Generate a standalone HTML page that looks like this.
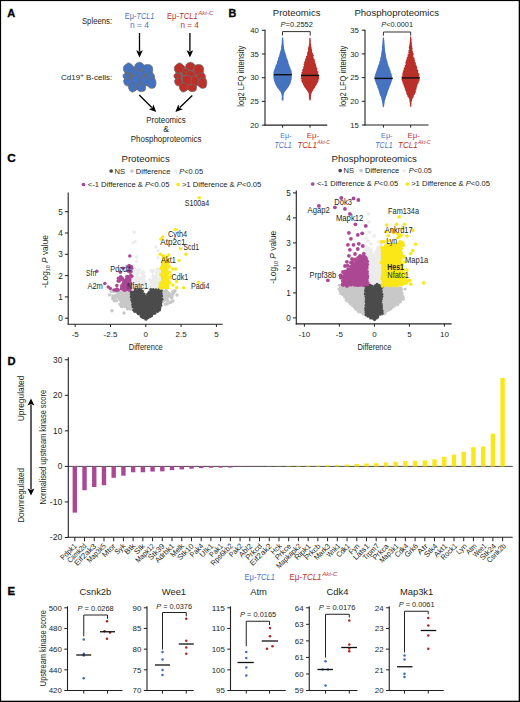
<!DOCTYPE html>
<html><head><meta charset="utf-8"><style>
html,body{margin:0;padding:0;background:#fff;overflow:hidden;width:520px;height:702px;}
svg{display:block;font-family:"Liberation Sans", sans-serif;}
</style></head><body>
<svg width="520" height="702" viewBox="0 0 520 702">
<rect x="0" y="0" width="520" height="702" fill="#fff"/>
<rect x="0" y="0" width="520" height="1.1" fill="#000"/><rect x="0" y="0" width="1.1" height="702" fill="#000"/><rect x="518.7" y="0" width="1.3" height="702" fill="#000"/><rect x="0" y="700.7" width="520" height="1.3" fill="#000"/>
<text x="7.20" y="16.60" font-size="11" fill="#000" font-weight="bold" stroke="#000" stroke-width="0.3">A</text>
<text x="112.20" y="23.50" font-size="8.5" fill="#231f20" text-anchor="end" textLength="30.30" lengthAdjust="spacingAndGlyphs" >Spleens:</text>
<text x="124.70" y="18.60" font-size="8.8" fill="#4a78c2" textLength="29.80" lengthAdjust="spacingAndGlyphs" >Eμ-<tspan font-style="italic">TCL1</tspan></text>
<text x="139.40" y="27.80" font-size="8.6" fill="#4a78c2" text-anchor="middle" textLength="18.90" lengthAdjust="spacingAndGlyphs" >n = 4</text>
<text x="167.00" y="18.60" font-size="8.8" fill="#c0322b" textLength="30.80" lengthAdjust="spacingAndGlyphs" >Eμ-<tspan font-style="italic">TCL1</tspan></text>
<text x="198.30" y="15.40" font-size="6" fill="#c0322b" textLength="14.90" lengthAdjust="spacingAndGlyphs" font-style="italic" >Akt-C</text>
<text x="189.70" y="27.80" font-size="8.6" fill="#c0322b" text-anchor="middle" textLength="18.30" lengthAdjust="spacingAndGlyphs" >n = 4</text>
<line x1="139.50" y1="33.00" x2="139.50" y2="51.30" stroke="#000" stroke-width="1.3" />
<path d="M139.50,57.50 L136.20,50.30 L139.50,51.80 L142.80,50.30 Z" fill="#000" stroke="none" stroke-width="1" />
<line x1="189.90" y1="33.00" x2="189.90" y2="51.30" stroke="#000" stroke-width="1.3" />
<path d="M189.90,57.50 L186.60,50.30 L189.90,51.80 L193.20,50.30 Z" fill="#000" stroke="none" stroke-width="1" />
<text x="112.20" y="79.80" font-size="8" fill="#231f20" text-anchor="end" textLength="51.10" lengthAdjust="spacingAndGlyphs" >Cd19<tspan font-size="6" dy="-2.6">+</tspan><tspan dy="2.6"> B-cells:</tspan></text>
<path d="M125.58,66.54 C126.22,65.66 127.26,64.05 128.46,64.13 C129.66,64.21 131.03,67.10 132.79,67.02 C134.55,66.94 137.04,63.73 139.04,63.65 C141.04,63.57 143.21,66.22 144.81,66.54 C146.41,66.86 147.61,65.50 148.65,65.58 C149.70,65.66 150.50,65.98 151.06,67.02 C151.62,68.06 151.54,70.22 152.02,71.83 C152.50,73.43 153.54,74.63 153.94,76.63 C154.34,78.64 154.58,82.16 154.42,83.85 C154.26,85.53 154.26,86.41 152.98,86.73 C151.70,87.05 148.25,85.21 146.73,85.77 C145.21,86.33 145.13,89.38 143.85,90.10 C142.56,90.82 140.80,90.02 139.04,90.10 C137.28,90.18 134.79,90.74 133.27,90.58 C131.75,90.42 130.71,90.02 129.90,89.13 C129.10,88.25 129.26,86.41 128.46,85.29 C127.66,84.17 125.74,84.25 125.10,82.40 C124.46,80.56 124.70,76.39 124.62,74.23 C124.54,72.07 124.46,70.71 124.62,69.42 C124.78,68.14 124.94,67.42 125.58,66.54Z" fill="#6c6c6c" stroke="none" stroke-width="1" />
<path d="M124.13,66.06 C124.97,65.13 127.02,62.96 128.46,62.88 C129.90,62.80 131.91,64.65 132.79,65.58 C133.67,66.51 133.91,67.42 133.75,68.46 C133.59,69.50 132.87,71.03 131.83,71.83 C130.79,72.63 128.78,73.35 127.50,73.27 C126.22,73.19 124.81,72.15 124.13,71.35 C123.46,70.54 123.46,69.34 123.46,68.46 C123.46,67.58 123.30,66.99 124.13,66.06Z" fill="#4471c0" stroke="#6c6c6c" stroke-width="0.75" stroke-linejoin="round"/>
<path d="M135.19,64.62 C135.75,63.41 138.16,62.29 139.52,62.21 C140.88,62.13 142.64,63.25 143.37,64.13 C144.09,65.02 144.25,66.46 143.85,67.50 C143.45,68.54 142.24,70.06 140.96,70.38 C139.68,70.71 137.12,70.38 136.15,69.42 C135.19,68.46 134.63,65.82 135.19,64.62Z" fill="#4471c0" stroke="#6c6c6c" stroke-width="0.75" stroke-linejoin="round"/>
<path d="M143.37,66.06 C144.25,64.78 147.21,64.54 148.65,64.62 C150.10,64.70 151.35,65.42 152.02,66.54 C152.69,67.66 152.93,69.98 152.69,71.35 C152.45,72.71 151.73,74.07 150.58,74.71 C149.42,75.35 146.97,75.59 145.77,75.19 C144.57,74.79 143.77,73.83 143.37,72.31 C142.96,70.79 142.48,67.34 143.37,66.06Z" fill="#4471c0" stroke="#6c6c6c" stroke-width="0.75" stroke-linejoin="round"/>
<path d="M123.65,74.23 C124.38,73.67 126.38,73.03 127.50,73.27 C128.62,73.51 130.06,74.79 130.38,75.67 C130.71,76.55 130.30,78.00 129.42,78.56 C128.54,79.12 126.14,79.36 125.10,79.04 C124.05,78.72 123.41,77.44 123.17,76.63 C122.93,75.83 122.93,74.79 123.65,74.23Z" fill="#4471c0" stroke="#6c6c6c" stroke-width="0.75" stroke-linejoin="round"/>
<path d="M146.73,74.23 C147.61,73.35 150.74,72.55 152.02,72.79 C153.30,73.03 154.10,74.63 154.42,75.67 C154.74,76.71 154.74,78.32 153.94,79.04 C153.14,79.76 150.82,80.16 149.62,80.00 C148.41,79.84 147.21,79.04 146.73,78.08 C146.25,77.12 145.85,75.11 146.73,74.23Z" fill="#4471c0" stroke="#6c6c6c" stroke-width="0.75" stroke-linejoin="round"/>
<path d="M131.83,69.42 C132.55,68.46 134.31,68.22 135.67,68.46 C137.04,68.70 139.36,69.90 140.00,70.87 C140.64,71.83 140.32,73.43 139.52,74.23 C138.72,75.03 136.55,75.67 135.19,75.67 C133.83,75.67 131.91,75.27 131.35,74.23 C130.79,73.19 131.11,70.38 131.83,69.42Z" fill="#4471c0" stroke="#6c6c6c" stroke-width="0.75" stroke-linejoin="round"/>
<path d="M135.67,71.35 C136.55,70.54 139.52,70.38 140.96,70.87 C142.40,71.35 143.93,73.11 144.33,74.23 C144.73,75.35 144.33,76.96 143.37,77.60 C142.40,78.24 139.84,78.40 138.56,78.08 C137.28,77.76 136.15,76.79 135.67,75.67 C135.19,74.55 134.79,72.15 135.67,71.35Z" fill="#4471c0" stroke="#6c6c6c" stroke-width="0.75" stroke-linejoin="round"/>
<path d="M124.13,79.52 C124.94,78.64 127.74,77.76 128.94,78.08 C130.14,78.40 131.11,80.32 131.35,81.44 C131.59,82.56 131.19,84.09 130.38,84.81 C129.58,85.53 127.58,86.01 126.54,85.77 C125.50,85.53 124.54,84.41 124.13,83.37 C123.73,82.32 123.33,80.40 124.13,79.52Z" fill="#4471c0" stroke="#6c6c6c" stroke-width="0.75" stroke-linejoin="round"/>
<path d="M147.69,79.52 C148.73,78.32 152.10,77.76 153.46,78.08 C154.82,78.40 155.62,79.92 155.87,81.44 C156.11,82.96 155.79,86.09 154.90,87.21 C154.02,88.33 151.86,88.49 150.58,88.17 C149.29,87.85 147.69,86.73 147.21,85.29 C146.73,83.85 146.65,80.72 147.69,79.52Z" fill="#4471c0" stroke="#6c6c6c" stroke-width="0.75" stroke-linejoin="round"/>
<path d="M131.83,76.63 C132.79,75.35 136.55,75.35 138.08,75.67 C139.60,75.99 140.56,77.20 140.96,78.56 C141.36,79.92 141.28,82.72 140.48,83.85 C139.68,84.97 137.52,85.37 136.15,85.29 C134.79,85.21 133.03,84.81 132.31,83.37 C131.59,81.92 130.87,77.92 131.83,76.63Z" fill="#4471c0" stroke="#6c6c6c" stroke-width="0.75" stroke-linejoin="round"/>
<path d="M140.96,76.63 C141.84,75.43 144.65,75.99 145.77,76.63 C146.89,77.28 147.53,79.12 147.69,80.48 C147.85,81.84 147.53,83.93 146.73,84.81 C145.93,85.69 143.93,85.93 142.88,85.77 C141.84,85.61 140.80,85.37 140.48,83.85 C140.16,82.32 140.08,77.84 140.96,76.63Z" fill="#4471c0" stroke="#6c6c6c" stroke-width="0.75" stroke-linejoin="round"/>
<path d="M128.46,84.81 C129.02,83.61 131.51,82.88 132.79,82.88 C134.07,82.88 135.51,83.77 136.15,84.81 C136.79,85.85 137.20,87.93 136.63,89.13 C136.07,90.34 133.99,91.86 132.79,92.02 C131.59,92.18 130.14,91.30 129.42,90.10 C128.70,88.89 127.90,86.01 128.46,84.81Z" fill="#4471c0" stroke="#6c6c6c" stroke-width="0.75" stroke-linejoin="round"/>
<path d="M136.63,85.77 C137.36,84.97 140.00,84.25 141.44,84.33 C142.88,84.41 144.73,85.21 145.29,86.25 C145.85,87.29 145.69,89.70 144.81,90.58 C143.93,91.46 141.28,91.78 140.00,91.54 C138.72,91.30 137.68,90.10 137.12,89.13 C136.55,88.17 135.91,86.57 136.63,85.77Z" fill="#4471c0" stroke="#6c6c6c" stroke-width="0.75" stroke-linejoin="round"/>
<path d="M176.48,66.54 C177.12,65.66 178.16,64.05 179.36,64.13 C180.56,64.21 181.93,67.10 183.69,67.02 C185.45,66.94 187.94,63.73 189.94,63.65 C191.94,63.57 194.11,66.22 195.71,66.54 C197.31,66.86 198.51,65.50 199.55,65.58 C200.60,65.66 201.40,65.98 201.96,67.02 C202.52,68.06 202.44,70.22 202.92,71.83 C203.40,73.43 204.44,74.63 204.84,76.63 C205.24,78.64 205.48,82.16 205.32,83.85 C205.16,85.53 205.16,86.41 203.88,86.73 C202.60,87.05 199.15,85.21 197.63,85.77 C196.11,86.33 196.03,89.38 194.75,90.10 C193.46,90.82 191.70,90.02 189.94,90.10 C188.18,90.18 185.69,90.74 184.17,90.58 C182.65,90.42 181.61,90.02 180.80,89.13 C180.00,88.25 180.16,86.41 179.36,85.29 C178.56,84.17 176.64,84.25 176.00,82.40 C175.36,80.56 175.60,76.39 175.52,74.23 C175.44,72.07 175.36,70.71 175.52,69.42 C175.68,68.14 175.84,67.42 176.48,66.54Z" fill="#6c6c6c" stroke="none" stroke-width="1" />
<path d="M175.03,66.06 C175.87,65.13 177.92,62.96 179.36,62.88 C180.80,62.80 182.81,64.65 183.69,65.58 C184.57,66.51 184.81,67.42 184.65,68.46 C184.49,69.50 183.77,71.03 182.73,71.83 C181.69,72.63 179.68,73.35 178.40,73.27 C177.12,73.19 175.71,72.15 175.03,71.35 C174.36,70.54 174.36,69.34 174.36,68.46 C174.36,67.58 174.20,66.99 175.03,66.06Z" fill="#bd2f27" stroke="#6c6c6c" stroke-width="0.75" stroke-linejoin="round"/>
<path d="M186.09,64.62 C186.65,63.41 189.06,62.29 190.42,62.21 C191.78,62.13 193.54,63.25 194.27,64.13 C194.99,65.02 195.15,66.46 194.75,67.50 C194.35,68.54 193.14,70.06 191.86,70.38 C190.58,70.71 188.02,70.38 187.05,69.42 C186.09,68.46 185.53,65.82 186.09,64.62Z" fill="#bd2f27" stroke="#6c6c6c" stroke-width="0.75" stroke-linejoin="round"/>
<path d="M194.27,66.06 C195.15,64.78 198.11,64.54 199.55,64.62 C201.00,64.70 202.25,65.42 202.92,66.54 C203.59,67.66 203.83,69.98 203.59,71.35 C203.35,72.71 202.63,74.07 201.48,74.71 C200.32,75.35 197.87,75.59 196.67,75.19 C195.47,74.79 194.67,73.83 194.27,72.31 C193.86,70.79 193.38,67.34 194.27,66.06Z" fill="#bd2f27" stroke="#6c6c6c" stroke-width="0.75" stroke-linejoin="round"/>
<path d="M174.55,74.23 C175.28,73.67 177.28,73.03 178.40,73.27 C179.52,73.51 180.96,74.79 181.28,75.67 C181.61,76.55 181.20,78.00 180.32,78.56 C179.44,79.12 177.04,79.36 176.00,79.04 C174.95,78.72 174.31,77.44 174.07,76.63 C173.83,75.83 173.83,74.79 174.55,74.23Z" fill="#bd2f27" stroke="#6c6c6c" stroke-width="0.75" stroke-linejoin="round"/>
<path d="M197.63,74.23 C198.51,73.35 201.64,72.55 202.92,72.79 C204.20,73.03 205.00,74.63 205.32,75.67 C205.64,76.71 205.64,78.32 204.84,79.04 C204.04,79.76 201.72,80.16 200.52,80.00 C199.31,79.84 198.11,79.04 197.63,78.08 C197.15,77.12 196.75,75.11 197.63,74.23Z" fill="#bd2f27" stroke="#6c6c6c" stroke-width="0.75" stroke-linejoin="round"/>
<path d="M182.73,69.42 C183.45,68.46 185.21,68.22 186.57,68.46 C187.94,68.70 190.26,69.90 190.90,70.87 C191.54,71.83 191.22,73.43 190.42,74.23 C189.62,75.03 187.45,75.67 186.09,75.67 C184.73,75.67 182.81,75.27 182.25,74.23 C181.69,73.19 182.01,70.38 182.73,69.42Z" fill="#bd2f27" stroke="#6c6c6c" stroke-width="0.75" stroke-linejoin="round"/>
<path d="M186.57,71.35 C187.45,70.54 190.42,70.38 191.86,70.87 C193.30,71.35 194.83,73.11 195.23,74.23 C195.63,75.35 195.23,76.96 194.27,77.60 C193.30,78.24 190.74,78.40 189.46,78.08 C188.18,77.76 187.05,76.79 186.57,75.67 C186.09,74.55 185.69,72.15 186.57,71.35Z" fill="#bd2f27" stroke="#6c6c6c" stroke-width="0.75" stroke-linejoin="round"/>
<path d="M175.03,79.52 C175.84,78.64 178.64,77.76 179.84,78.08 C181.04,78.40 182.01,80.32 182.25,81.44 C182.49,82.56 182.09,84.09 181.28,84.81 C180.48,85.53 178.48,86.01 177.44,85.77 C176.40,85.53 175.44,84.41 175.03,83.37 C174.63,82.32 174.23,80.40 175.03,79.52Z" fill="#bd2f27" stroke="#6c6c6c" stroke-width="0.75" stroke-linejoin="round"/>
<path d="M198.59,79.52 C199.63,78.32 203.00,77.76 204.36,78.08 C205.72,78.40 206.53,79.92 206.77,81.44 C207.01,82.96 206.69,86.09 205.80,87.21 C204.92,88.33 202.76,88.49 201.48,88.17 C200.19,87.85 198.59,86.73 198.11,85.29 C197.63,83.85 197.55,80.72 198.59,79.52Z" fill="#bd2f27" stroke="#6c6c6c" stroke-width="0.75" stroke-linejoin="round"/>
<path d="M182.73,76.63 C183.69,75.35 187.45,75.35 188.98,75.67 C190.50,75.99 191.46,77.20 191.86,78.56 C192.26,79.92 192.18,82.72 191.38,83.85 C190.58,84.97 188.42,85.37 187.05,85.29 C185.69,85.21 183.93,84.81 183.21,83.37 C182.49,81.92 181.77,77.92 182.73,76.63Z" fill="#bd2f27" stroke="#6c6c6c" stroke-width="0.75" stroke-linejoin="round"/>
<path d="M191.86,76.63 C192.74,75.43 195.55,75.99 196.67,76.63 C197.79,77.28 198.43,79.12 198.59,80.48 C198.75,81.84 198.43,83.93 197.63,84.81 C196.83,85.69 194.83,85.93 193.78,85.77 C192.74,85.61 191.70,85.37 191.38,83.85 C191.06,82.32 190.98,77.84 191.86,76.63Z" fill="#bd2f27" stroke="#6c6c6c" stroke-width="0.75" stroke-linejoin="round"/>
<path d="M179.36,84.81 C179.92,83.61 182.41,82.88 183.69,82.88 C184.97,82.88 186.41,83.77 187.05,84.81 C187.69,85.85 188.10,87.93 187.53,89.13 C186.97,90.34 184.89,91.86 183.69,92.02 C182.49,92.18 181.04,91.30 180.32,90.10 C179.60,88.89 178.80,86.01 179.36,84.81Z" fill="#bd2f27" stroke="#6c6c6c" stroke-width="0.75" stroke-linejoin="round"/>
<path d="M187.53,85.77 C188.26,84.97 190.90,84.25 192.34,84.33 C193.78,84.41 195.63,85.21 196.19,86.25 C196.75,87.29 196.59,89.70 195.71,90.58 C194.83,91.46 192.18,91.78 190.90,91.54 C189.62,91.30 188.58,90.10 188.02,89.13 C187.45,88.17 186.81,86.57 187.53,85.77Z" fill="#bd2f27" stroke="#6c6c6c" stroke-width="0.75" stroke-linejoin="round"/>
<line x1="139.20" y1="95.00" x2="151.80" y2="107.53" stroke="#000" stroke-width="1.3" />
<path d="M156.20,111.90 L148.77,109.16 L152.16,107.88 L153.42,104.48 Z" fill="#000" stroke="none" stroke-width="1" />
<line x1="192.30" y1="95.50" x2="179.85" y2="107.58" stroke="#000" stroke-width="1.3" />
<path d="M175.40,111.90 L178.27,104.52 L179.49,107.93 L182.87,109.25 Z" fill="#000" stroke="none" stroke-width="1" />
<text x="166.00" y="122.70" font-size="8.5" fill="#231f20" text-anchor="middle" textLength="39.50" lengthAdjust="spacingAndGlyphs" >Proteomics</text>
<text x="166.20" y="131.90" font-size="8.5" fill="#231f20" text-anchor="middle" >&amp;</text>
<text x="166.10" y="142.00" font-size="8.5" fill="#231f20" text-anchor="middle" textLength="70.70" lengthAdjust="spacingAndGlyphs" >Phosphoproteomics</text>
<text x="228.40" y="16.50" font-size="10.8" fill="#000" font-weight="bold" stroke="#000" stroke-width="0.3">B</text>
<text x="296.60" y="15.90" font-size="9" fill="#231f20" text-anchor="middle" textLength="47.60" lengthAdjust="spacingAndGlyphs" >Proteomics</text>
<text x="280.60" y="26.80" font-size="7" fill="#231f20" textLength="32.30" lengthAdjust="spacingAndGlyphs" ><tspan font-style="italic">P</tspan>=0.2552</text>
<line x1="265.00" y1="29.80" x2="265.00" y2="125.60" stroke="#231f20" stroke-width="1.1" />
<line x1="264.50" y1="125.10" x2="327.30" y2="125.10" stroke="#231f20" stroke-width="1.1" />
<line x1="261.80" y1="125.10" x2="265.00" y2="125.10" stroke="#231f20" stroke-width="1" />
<text x="258.80" y="127.70" font-size="7.3" fill="#231f20" text-anchor="end" textLength="8.60" lengthAdjust="spacingAndGlyphs" >20</text>
<line x1="261.80" y1="101.40" x2="265.00" y2="101.40" stroke="#231f20" stroke-width="1" />
<text x="258.80" y="104.00" font-size="7.3" fill="#231f20" text-anchor="end" textLength="8.60" lengthAdjust="spacingAndGlyphs" >25</text>
<line x1="261.80" y1="77.70" x2="265.00" y2="77.70" stroke="#231f20" stroke-width="1" />
<text x="258.80" y="80.30" font-size="7.3" fill="#231f20" text-anchor="end" textLength="8.60" lengthAdjust="spacingAndGlyphs" >30</text>
<line x1="261.80" y1="54.00" x2="265.00" y2="54.00" stroke="#231f20" stroke-width="1" />
<text x="258.80" y="56.60" font-size="7.3" fill="#231f20" text-anchor="end" textLength="8.60" lengthAdjust="spacingAndGlyphs" >35</text>
<line x1="261.80" y1="30.30" x2="265.00" y2="30.30" stroke="#231f20" stroke-width="1" />
<text x="258.80" y="32.90" font-size="7.3" fill="#231f20" text-anchor="end" textLength="8.60" lengthAdjust="spacingAndGlyphs" >40</text>
<line x1="282.60" y1="125.10" x2="282.60" y2="127.70" stroke="#231f20" stroke-width="1" />
<line x1="310.00" y1="125.10" x2="310.00" y2="127.70" stroke="#231f20" stroke-width="1" />
<path d="M283.17,37.50 L283.22,38.10 L283.29,38.70 L283.24,39.30 L283.31,39.90 L283.46,40.50 L283.48,41.10 L283.48,41.70 L283.52,42.30 L283.54,42.90 L283.60,43.50 L283.66,44.10 L283.64,44.70 L283.84,45.30 L283.88,45.90 L283.96,46.50 L283.94,47.10 L284.03,47.70 L284.23,48.30 L284.07,48.90 L284.49,49.50 L284.54,50.10 L284.65,50.70 L284.74,51.30 L285.01,51.90 L285.22,52.50 L285.48,53.10 L285.54,53.70 L285.85,54.30 L286.08,54.90 L286.17,55.50 L286.45,56.10 L286.32,56.70 L286.87,57.30 L286.61,57.90 L287.01,58.50 L287.14,59.10 L287.68,59.70 L287.72,60.30 L287.97,60.90 L288.26,61.50 L288.23,62.10 L288.30,62.70 L288.67,63.30 L288.62,63.90 L289.08,64.50 L288.96,65.10 L289.34,65.70 L289.90,66.30 L289.86,66.90 L290.18,67.50 L290.35,68.10 L290.79,68.70 L290.72,69.30 L290.84,69.90 L291.53,70.50 L291.51,71.10 L291.67,71.70 L291.53,72.30 L291.91,72.90 L291.93,73.50 L291.98,74.10 L292.02,74.70 L291.59,75.30 L291.96,75.90 L291.67,76.50 L291.85,77.10 L291.68,77.70 L291.65,78.30 L291.58,78.90 L291.70,79.50 L291.41,80.10 L291.09,80.70 L291.22,81.30 L290.69,81.90 L290.83,82.50 L290.39,83.10 L290.39,83.70 L290.10,84.30 L289.48,84.90 L289.50,85.50 L288.79,86.10 L288.67,86.70 L288.41,87.30 L287.59,87.90 L287.51,88.50 L287.06,89.10 L286.20,89.70 L286.15,90.30 L285.44,90.90 L285.04,91.50 L284.80,92.10 L284.02,92.70 L284.11,93.30 L283.86,93.90 L283.86,94.50 L283.69,95.10 L283.55,95.70 L283.46,96.30 L283.44,96.90 L283.50,97.50 L283.53,98.10 L283.54,98.70 L283.53,99.30 L283.52,99.90 L283.23,100.50 L281.87,100.50 L281.73,99.90 L281.67,99.30 L281.70,98.70 L281.81,98.10 L281.76,97.50 L281.79,96.90 L281.73,96.30 L281.68,95.70 L281.49,95.10 L281.50,94.50 L281.20,93.90 L281.06,93.30 L280.89,92.70 L280.71,92.10 L280.17,91.50 L279.72,90.90 L279.36,90.30 L278.90,89.70 L278.42,89.10 L277.79,88.50 L277.56,87.90 L276.77,87.30 L276.73,86.70 L276.47,86.10 L275.96,85.50 L275.54,84.90 L275.52,84.30 L275.05,83.70 L274.80,83.10 L274.73,82.50 L274.36,81.90 L274.32,81.30 L274.16,80.70 L273.69,80.10 L273.95,79.50 L273.57,78.90 L273.41,78.30 L273.55,77.70 L273.52,77.10 L273.41,76.50 L273.07,75.90 L273.58,75.30 L273.16,74.70 L273.42,74.10 L273.37,73.50 L273.63,72.90 L273.32,72.30 L273.43,71.70 L274.01,71.10 L273.95,70.50 L274.32,69.90 L274.31,69.30 L274.67,68.70 L274.82,68.10 L275.05,67.50 L275.31,66.90 L275.61,66.30 L275.48,65.70 L275.75,65.10 L276.39,64.50 L276.46,63.90 L276.87,63.30 L277.04,62.70 L276.68,62.10 L276.88,61.50 L277.46,60.90 L277.83,60.30 L278.02,59.70 L277.77,59.10 L278.35,58.50 L278.16,57.90 L278.25,57.30 L279.01,56.70 L278.91,56.10 L279.33,55.50 L279.32,54.90 L279.29,54.30 L279.94,53.70 L279.65,53.10 L279.85,52.50 L280.04,51.90 L280.35,51.30 L280.60,50.70 L280.78,50.10 L280.89,49.50 L281.10,48.90 L281.21,48.30 L281.03,47.70 L281.15,47.10 L281.19,46.50 L281.28,45.90 L281.45,45.30 L281.62,44.70 L281.57,44.10 L281.72,43.50 L281.62,42.90 L281.64,42.30 L281.80,41.70 L281.78,41.10 L281.82,40.50 L281.89,39.90 L281.84,39.30 L281.98,38.70 L281.95,38.10 L281.99,37.50Z" fill="#4673bf" stroke="none" stroke-width="1" />
<path d="M310.63,38.00 L310.71,38.60 L310.73,39.20 L310.57,39.80 L310.87,40.40 L310.90,41.00 L310.80,41.60 L310.86,42.20 L310.71,42.80 L310.83,43.40 L311.05,44.00 L311.18,44.60 L311.21,45.20 L311.01,45.80 L311.20,46.40 L311.74,47.00 L311.43,47.60 L311.69,48.20 L311.56,48.80 L312.04,49.40 L312.37,50.00 L312.07,50.60 L312.01,51.20 L312.29,51.80 L312.11,52.40 L312.60,53.00 L313.30,53.60 L312.86,54.20 L313.48,54.80 L313.96,55.40 L313.85,56.00 L313.12,56.60 L313.70,57.20 L313.42,57.80 L313.79,58.40 L313.97,59.00 L315.04,59.60 L314.53,60.20 L314.94,60.80 L314.63,61.40 L315.65,62.00 L314.93,62.60 L315.19,63.20 L316.00,63.80 L315.84,64.40 L316.24,65.00 L316.12,65.60 L315.99,66.20 L316.88,66.80 L316.40,67.40 L317.55,68.00 L317.01,68.60 L317.39,69.20 L317.38,69.80 L317.06,70.40 L317.19,71.00 L318.31,71.60 L318.34,72.20 L318.37,72.80 L317.90,73.40 L318.10,74.00 L318.38,74.60 L319.33,75.20 L319.40,75.80 L318.92,76.40 L319.02,77.00 L319.03,77.60 L318.96,78.20 L319.48,78.80 L318.75,79.40 L318.08,80.00 L318.73,80.60 L318.04,81.20 L318.36,81.80 L317.94,82.40 L317.27,83.00 L316.87,83.60 L317.15,84.20 L316.27,84.80 L316.39,85.40 L315.32,86.00 L315.30,86.60 L315.16,87.20 L314.93,87.80 L314.12,88.40 L314.14,89.00 L313.22,89.60 L313.39,90.20 L312.98,90.80 L312.26,91.40 L311.72,92.00 L312.02,92.60 L311.57,93.20 L311.31,93.80 L311.30,94.40 L311.22,95.00 L311.16,95.60 L311.14,96.20 L310.85,96.80 L311.00,97.40 L310.88,98.00 L311.01,98.60 L310.85,99.20 L310.60,99.80 L310.55,100.40 L309.49,100.40 L309.38,99.80 L309.23,99.20 L309.22,98.60 L308.94,98.00 L308.92,97.40 L309.09,96.80 L308.82,96.20 L308.77,95.60 L308.90,95.00 L308.79,94.40 L308.96,93.80 L308.41,93.20 L308.30,92.60 L307.75,92.00 L307.73,91.40 L307.04,90.80 L306.83,90.20 L306.19,89.60 L305.76,89.00 L305.53,88.40 L304.89,87.80 L304.42,87.20 L304.19,86.60 L304.04,86.00 L303.69,85.40 L302.94,84.80 L302.94,84.20 L302.88,83.60 L302.32,83.00 L301.94,82.40 L301.74,81.80 L301.45,81.20 L301.17,80.60 L301.70,80.00 L301.44,79.40 L300.92,78.80 L300.30,78.20 L301.28,77.60 L301.21,77.00 L300.79,76.40 L301.22,75.80 L300.85,75.20 L301.43,74.60 L301.07,74.00 L301.71,73.40 L301.44,72.80 L301.40,72.20 L302.54,71.60 L302.26,71.00 L301.91,70.40 L302.66,69.80 L302.33,69.20 L303.19,68.60 L302.99,68.00 L303.73,67.40 L302.75,66.80 L303.92,66.20 L304.05,65.60 L304.04,65.00 L303.46,64.40 L303.63,63.80 L304.52,63.20 L303.98,62.60 L304.28,62.00 L304.60,61.40 L304.76,60.80 L305.46,60.20 L304.95,59.60 L305.36,59.00 L305.28,58.40 L306.53,57.80 L306.05,57.20 L305.95,56.60 L306.04,56.00 L307.18,55.40 L307.30,54.80 L306.94,54.20 L307.10,53.60 L307.43,53.00 L307.18,52.40 L307.41,51.80 L308.07,51.20 L308.10,50.60 L308.12,50.00 L307.75,49.40 L307.92,48.80 L308.22,48.20 L308.15,47.60 L308.32,47.00 L308.80,46.40 L308.56,45.80 L309.02,45.20 L309.10,44.60 L309.18,44.00 L308.93,43.40 L309.22,42.80 L309.13,42.20 L309.27,41.60 L309.34,41.00 L309.22,40.40 L309.30,39.80 L309.22,39.20 L309.25,38.60 L309.34,38.00Z" fill="#b92f29" stroke="none" stroke-width="1" />
<line x1="274.00" y1="74.70" x2="291.90" y2="74.70" stroke="#111" stroke-width="1.4" />
<line x1="301.00" y1="75.40" x2="319.10" y2="75.40" stroke="#111" stroke-width="1.4" />
<path d="M282.50,35.50 L282.50,31.60 L310.20,31.60 L310.20,35.50" fill="none" stroke="#333" stroke-width="1" />
<text x="244.50" y="76.20" font-size="8.3" fill="#231f20" text-anchor="middle" textLength="61.00" lengthAdjust="spacingAndGlyphs" transform="rotate(-90 244.50 76.20)" >log2 LFQ intensity</text>
<text x="286.00" y="138.10" font-size="7.8" fill="#4a78c2" text-anchor="middle" textLength="11.50" lengthAdjust="spacingAndGlyphs" >Eμ-</text>
<text x="283.10" y="147.80" font-size="8.6" fill="#4a78c2" text-anchor="middle" textLength="17.40" lengthAdjust="spacingAndGlyphs" font-style="italic" >TCL1</text>
<text x="312.90" y="138.10" font-size="7.8" fill="#c0322b" text-anchor="middle" textLength="12.30" lengthAdjust="spacingAndGlyphs" >Eμ-</text>
<text x="297.40" y="147.80" font-size="8.6" fill="#c0322b" textLength="19.50" lengthAdjust="spacingAndGlyphs" font-style="italic" >TCL1</text>
<text x="317.30" y="144.30" font-size="5.6" fill="#c0322b" textLength="12.60" lengthAdjust="spacingAndGlyphs" font-style="italic" >Akt-C</text>
<text x="396.70" y="15.90" font-size="9" fill="#231f20" text-anchor="middle" textLength="84.60" lengthAdjust="spacingAndGlyphs" >Phosphoproteomics</text>
<text x="381.30" y="27.00" font-size="7" fill="#231f20" textLength="31.70" lengthAdjust="spacingAndGlyphs" ><tspan font-style="italic">P</tspan>&lt;0.0001</text>
<line x1="365.00" y1="29.70" x2="365.00" y2="125.50" stroke="#231f20" stroke-width="1.1" />
<line x1="364.50" y1="125.00" x2="428.50" y2="125.00" stroke="#231f20" stroke-width="1.1" />
<line x1="361.80" y1="125.00" x2="365.00" y2="125.00" stroke="#231f20" stroke-width="1" />
<text x="358.80" y="127.60" font-size="7.3" fill="#231f20" text-anchor="end" textLength="8.60" lengthAdjust="spacingAndGlyphs" >15</text>
<line x1="361.80" y1="101.30" x2="365.00" y2="101.30" stroke="#231f20" stroke-width="1" />
<text x="358.80" y="103.90" font-size="7.3" fill="#231f20" text-anchor="end" textLength="8.60" lengthAdjust="spacingAndGlyphs" >20</text>
<line x1="361.80" y1="77.60" x2="365.00" y2="77.60" stroke="#231f20" stroke-width="1" />
<text x="358.80" y="80.20" font-size="7.3" fill="#231f20" text-anchor="end" textLength="8.60" lengthAdjust="spacingAndGlyphs" >25</text>
<line x1="361.80" y1="53.90" x2="365.00" y2="53.90" stroke="#231f20" stroke-width="1" />
<text x="358.80" y="56.50" font-size="7.3" fill="#231f20" text-anchor="end" textLength="8.60" lengthAdjust="spacingAndGlyphs" >30</text>
<line x1="361.80" y1="30.20" x2="365.00" y2="30.20" stroke="#231f20" stroke-width="1" />
<text x="358.80" y="32.80" font-size="7.3" fill="#231f20" text-anchor="end" textLength="8.60" lengthAdjust="spacingAndGlyphs" >35</text>
<line x1="383.40" y1="125.00" x2="383.40" y2="127.60" stroke="#231f20" stroke-width="1" />
<line x1="410.70" y1="125.00" x2="410.70" y2="127.60" stroke="#231f20" stroke-width="1" />
<path d="M383.87,37.60 L384.01,38.20 L384.11,38.80 L384.07,39.40 L384.16,40.00 L384.33,40.60 L384.36,41.20 L384.37,41.80 L384.42,42.40 L384.45,43.00 L384.54,43.60 L384.61,44.20 L384.55,44.80 L384.74,45.40 L384.75,46.00 L384.79,46.60 L384.75,47.20 L384.81,47.80 L384.98,48.40 L384.80,49.00 L385.10,49.60 L385.04,50.20 L385.09,50.80 L385.12,51.40 L385.29,52.00 L385.42,52.60 L385.58,53.20 L385.60,53.80 L385.77,54.40 L385.88,55.00 L385.89,55.60 L386.09,56.20 L385.95,56.80 L386.41,57.40 L386.11,58.00 L386.44,58.60 L386.52,59.20 L387.01,59.80 L387.00,60.40 L387.21,61.00 L387.49,61.60 L387.45,62.20 L387.52,62.80 L387.88,63.40 L387.83,64.00 L388.27,64.60 L388.12,65.20 L388.47,65.80 L389.01,66.40 L388.96,67.00 L389.29,67.60 L389.47,68.20 L389.92,68.80 L389.83,69.40 L389.94,70.00 L390.61,70.60 L390.57,71.20 L390.71,71.80 L390.67,72.40 L391.22,73.00 L391.41,73.60 L391.63,74.20 L391.83,74.80 L391.58,75.40 L392.10,76.00 L391.97,76.60 L392.30,77.20 L392.29,77.80 L392.42,78.40 L392.21,79.00 L392.33,79.60 L392.04,80.20 L391.71,80.80 L391.84,81.40 L391.26,82.00 L391.33,82.60 L390.87,83.20 L390.95,83.80 L390.73,84.40 L390.19,85.00 L390.29,85.60 L389.66,86.20 L389.62,86.80 L389.56,87.40 L388.97,88.00 L389.12,88.60 L388.89,89.20 L388.26,89.80 L388.44,90.40 L387.97,91.00 L387.80,91.60 L387.90,92.20 L387.14,92.80 L387.46,93.40 L386.99,94.00 L387.09,94.60 L386.78,95.20 L386.53,95.80 L386.11,96.40 L385.89,97.00 L385.87,97.60 L385.76,98.20 L385.57,98.80 L385.36,99.40 L385.13,100.00 L384.76,100.60 L384.73,101.20 L384.77,101.80 L384.62,102.40 L384.57,103.00 L384.40,103.60 L384.35,104.20 L384.24,104.80 L384.18,105.40 L384.03,106.00 L384.00,106.60 L383.72,107.20 L383.13,107.20 L382.81,106.60 L382.68,106.00 L382.58,105.40 L382.59,104.80 L382.39,104.20 L382.27,103.60 L382.29,103.00 L382.06,102.40 L382.07,101.80 L382.04,101.20 L381.82,100.60 L381.78,100.00 L381.45,99.40 L381.31,98.80 L381.38,98.20 L381.08,97.60 L381.00,97.00 L380.66,96.40 L380.36,95.80 L379.96,95.20 L380.13,94.60 L379.50,94.00 L379.27,93.40 L379.09,92.80 L379.36,92.20 L379.00,91.60 L378.79,91.00 L378.67,90.40 L378.44,89.80 L378.18,89.20 L377.78,88.60 L377.78,88.00 L377.22,87.40 L377.38,86.80 L377.20,86.20 L376.77,85.60 L376.42,85.00 L376.48,84.40 L376.09,83.80 L375.92,83.20 L375.83,82.60 L375.39,82.00 L375.30,81.40 L375.14,80.80 L374.67,80.20 L374.92,79.60 L374.54,79.00 L374.24,78.40 L374.54,77.80 L374.66,77.20 L374.71,76.60 L374.53,76.00 L375.20,75.40 L374.95,74.80 L375.37,74.20 L375.49,73.60 L375.92,73.00 L375.77,72.40 L375.99,71.80 L376.55,71.20 L376.47,70.60 L376.82,70.00 L376.79,69.40 L377.14,68.80 L377.30,68.20 L377.54,67.60 L377.80,67.00 L378.10,66.40 L377.95,65.80 L378.19,65.20 L378.80,64.60 L378.84,64.00 L379.26,63.40 L379.42,62.80 L379.05,62.20 L379.25,61.60 L379.83,61.00 L380.14,60.40 L380.29,59.80 L380.00,59.20 L380.51,58.60 L380.27,58.00 L380.32,57.40 L380.97,56.80 L380.84,56.20 L381.15,55.60 L381.07,55.00 L380.98,54.40 L381.42,53.80 L381.16,53.20 L381.28,52.60 L381.39,52.00 L381.60,51.40 L381.75,50.80 L381.86,50.20 L381.86,49.60 L381.97,49.00 L382.05,48.40 L381.85,47.80 L381.94,47.20 L381.95,46.60 L382.01,46.00 L382.16,45.40 L382.31,44.80 L382.23,44.20 L382.40,43.60 L382.30,43.00 L382.33,42.40 L382.52,41.80 L382.51,41.20 L382.56,40.60 L382.65,40.00 L382.61,39.40 L382.77,38.80 L382.76,38.20 L382.90,37.60Z" fill="#4673bf" stroke="none" stroke-width="1" />
<path d="M411.22,36.50 L411.32,37.10 L411.37,37.70 L411.25,38.30 L411.56,38.90 L411.62,39.50 L411.54,40.10 L411.62,40.70 L411.48,41.30 L411.63,41.90 L411.89,42.50 L411.97,43.10 L411.95,43.70 L411.70,44.30 L411.86,44.90 L412.36,45.50 L412.04,46.10 L412.27,46.70 L412.13,47.30 L412.53,47.90 L412.76,48.50 L412.45,49.10 L412.36,49.70 L412.56,50.30 L412.40,50.90 L412.79,51.50 L413.34,52.10 L412.97,52.70 L413.47,53.30 L413.88,53.90 L413.76,54.50 L413.03,55.10 L413.54,55.70 L413.28,56.30 L413.65,56.90 L413.84,57.50 L414.88,58.10 L414.35,58.70 L414.73,59.30 L414.40,59.90 L415.39,60.50 L414.64,61.10 L414.89,61.70 L415.69,62.30 L415.54,62.90 L415.97,63.50 L415.87,64.10 L415.76,64.70 L416.67,65.30 L416.22,65.90 L417.38,66.50 L416.86,67.10 L417.27,67.70 L417.28,68.30 L416.98,68.90 L417.13,69.50 L418.27,70.10 L418.32,70.70 L418.38,71.30 L417.93,71.90 L418.11,72.50 L418.42,73.10 L419.40,73.70 L419.50,74.30 L419.05,74.90 L419.17,75.50 L419.22,76.10 L419.32,76.70 L420.15,77.30 L419.60,77.90 L419.11,78.50 L419.94,79.10 L419.37,79.70 L419.67,80.30 L419.34,80.90 L418.78,81.50 L418.49,82.10 L418.88,82.70 L418.12,83.30 L418.34,83.90 L417.32,84.50 L417.36,85.10 L417.36,85.70 L417.33,86.30 L416.72,86.90 L416.94,87.50 L416.22,88.10 L416.69,88.70 L416.67,89.30 L415.97,89.90 L415.40,90.50 L416.17,91.10 L415.73,91.70 L415.63,92.30 L415.49,92.90 L415.13,93.50 L414.85,94.10 L414.65,94.70 L413.69,95.30 L413.96,95.90 L413.47,96.50 L413.69,97.10 L413.21,97.70 L412.53,98.30 L412.48,98.90 L412.11,99.50 L412.01,100.10 L411.99,100.70 L411.71,101.30 L411.53,101.90 L411.55,102.50 L411.41,103.10 L411.43,103.70 L411.45,104.30 L411.39,104.90 L411.35,105.50 L411.36,106.10 L411.24,106.70 L410.19,106.70 L410.14,106.10 L409.96,105.50 L410.07,104.90 L410.10,104.30 L410.07,103.70 L409.76,103.10 L409.80,102.50 L409.71,101.90 L409.38,101.30 L409.42,100.70 L409.43,100.10 L409.39,99.50 L409.03,98.90 L408.80,98.30 L408.44,97.70 L408.38,97.10 L407.37,96.50 L407.18,95.90 L407.55,95.30 L406.65,94.70 L406.37,94.10 L406.57,93.50 L406.15,92.90 L406.44,92.30 L405.64,91.70 L405.78,91.10 L405.20,90.50 L405.41,89.90 L404.75,89.30 L404.92,88.70 L404.59,88.10 L404.36,87.50 L404.32,86.90 L403.89,86.30 L403.62,85.70 L403.54,85.10 L403.44,84.50 L403.15,83.90 L402.50,83.30 L402.61,82.70 L402.66,82.10 L402.21,81.50 L401.94,80.90 L401.83,80.30 L401.52,79.70 L401.36,79.10 L402.07,78.50 L401.99,77.90 L401.65,77.30 L401.35,76.70 L402.49,76.10 L402.45,75.50 L402.06,74.90 L402.52,74.30 L402.18,73.70 L402.79,73.10 L402.45,72.50 L403.08,71.90 L402.83,71.30 L402.82,70.70 L403.98,70.10 L403.72,69.50 L403.39,68.90 L404.16,68.30 L403.85,67.70 L404.74,67.10 L404.56,66.50 L405.32,65.90 L404.36,65.30 L405.55,64.70 L405.70,64.10 L405.71,63.50 L405.16,62.90 L405.34,62.30 L406.21,61.70 L405.67,61.10 L405.94,60.50 L406.24,59.90 L406.37,59.30 L407.04,58.70 L406.50,58.10 L406.89,57.50 L406.82,56.90 L408.08,56.30 L407.61,55.70 L407.48,55.10 L407.53,54.50 L408.54,53.90 L408.59,53.30 L408.26,52.70 L408.37,52.10 L408.63,51.50 L408.42,50.90 L408.60,50.30 L409.10,49.70 L409.09,49.10 L409.06,48.50 L408.68,47.90 L408.79,47.30 L409.04,46.70 L408.96,46.10 L409.10,45.50 L409.54,44.90 L409.26,44.30 L409.68,43.70 L409.73,43.10 L409.77,42.50 L409.51,41.90 L409.85,41.30 L409.77,40.70 L409.94,40.10 L410.03,39.50 L409.93,38.90 L410.04,38.30 L409.98,37.70 L410.04,37.10 L410.15,36.50Z" fill="#b92f29" stroke="none" stroke-width="1" />
<line x1="374.60" y1="78.40" x2="392.80" y2="78.40" stroke="#111" stroke-width="1.4" />
<line x1="401.70" y1="77.90" x2="419.80" y2="77.90" stroke="#111" stroke-width="1.4" />
<path d="M383.40,35.70 L383.40,32.00 L410.70,32.00 L410.70,35.70" fill="none" stroke="#333" stroke-width="1" />
<text x="346.00" y="76.20" font-size="8.3" fill="#231f20" text-anchor="middle" textLength="61.00" lengthAdjust="spacingAndGlyphs" transform="rotate(-90 346.00 76.20)" >log2 LFQ intensity</text>
<text x="386.80" y="138.10" font-size="7.8" fill="#4a78c2" text-anchor="middle" textLength="11.50" lengthAdjust="spacingAndGlyphs" >Eμ-</text>
<text x="383.90" y="147.80" font-size="8.6" fill="#4a78c2" text-anchor="middle" textLength="17.40" lengthAdjust="spacingAndGlyphs" font-style="italic" >TCL1</text>
<text x="413.60" y="138.10" font-size="7.8" fill="#c0322b" text-anchor="middle" textLength="12.30" lengthAdjust="spacingAndGlyphs" >Eμ-</text>
<text x="398.10" y="147.80" font-size="8.6" fill="#c0322b" textLength="19.50" lengthAdjust="spacingAndGlyphs" font-style="italic" >TCL1</text>
<text x="418.00" y="144.30" font-size="5.6" fill="#c0322b" textLength="12.60" lengthAdjust="spacingAndGlyphs" font-style="italic" >Akt-C</text>
<text x="7.20" y="162.40" font-size="11.8" fill="#000" font-weight="bold" stroke="#000" stroke-width="0.3">C</text>
<text x="145.60" y="162.30" font-size="9" fill="#231f20" text-anchor="middle" textLength="48.30" lengthAdjust="spacingAndGlyphs" >Proteomics</text>
<circle cx="111.20" cy="171.00" r="1.85" fill="#4b4b4b"/>
<text x="114.60" y="173.90" font-size="6.6" fill="#231f20" textLength="10.60" lengthAdjust="spacingAndGlyphs" >NS</text>
<circle cx="131.90" cy="171.00" r="1.85" fill="#c8c8c8"/>
<text x="135.80" y="173.90" font-size="6.6" fill="#231f20" textLength="34.60" lengthAdjust="spacingAndGlyphs" >Difference</text>
<circle cx="175.80" cy="171.00" r="1.85" fill="#ececec"/>
<text x="179.20" y="173.90" font-size="6.6" fill="#231f20" textLength="23.90" lengthAdjust="spacingAndGlyphs" ><tspan font-style="italic">P</tspan>&lt;0.05</text>
<circle cx="83.50" cy="184.50" r="1.85" fill="#ac4793"/>
<text x="87.70" y="187.00" font-size="6.6" fill="#231f20" textLength="81.70" lengthAdjust="spacingAndGlyphs" >&lt;-1 Difference &amp; <tspan font-style="italic">P</tspan>&lt;0.05</text>
<circle cx="178.10" cy="184.50" r="1.85" fill="#fbe717"/>
<text x="181.90" y="187.00" font-size="6.6" fill="#231f20" textLength="79.40" lengthAdjust="spacingAndGlyphs" >&gt;1 Difference &amp; <tspan font-style="italic">P</tspan>&lt;0.05</text>
<line x1="68.20" y1="192.60" x2="68.20" y2="324.70" stroke="#231f20" stroke-width="1.1" />
<line x1="67.70" y1="324.20" x2="222.70" y2="324.20" stroke="#231f20" stroke-width="1.1" />
<line x1="64.90" y1="318.20" x2="68.20" y2="318.20" stroke="#231f20" stroke-width="1" />
<text x="62.70" y="321.10" font-size="8.2" fill="#231f20" text-anchor="end" >0</text>
<line x1="64.90" y1="296.90" x2="68.20" y2="296.90" stroke="#231f20" stroke-width="1" />
<text x="62.70" y="299.80" font-size="8.2" fill="#231f20" text-anchor="end" >1</text>
<line x1="64.90" y1="275.60" x2="68.20" y2="275.60" stroke="#231f20" stroke-width="1" />
<text x="62.70" y="278.50" font-size="8.2" fill="#231f20" text-anchor="end" >2</text>
<line x1="64.90" y1="254.30" x2="68.20" y2="254.30" stroke="#231f20" stroke-width="1" />
<text x="62.70" y="257.20" font-size="8.2" fill="#231f20" text-anchor="end" >3</text>
<line x1="64.90" y1="233.00" x2="68.20" y2="233.00" stroke="#231f20" stroke-width="1" />
<text x="62.70" y="235.90" font-size="8.2" fill="#231f20" text-anchor="end" >4</text>
<line x1="64.90" y1="211.70" x2="68.20" y2="211.70" stroke="#231f20" stroke-width="1" />
<text x="62.70" y="214.60" font-size="8.2" fill="#231f20" text-anchor="end" >5</text>
<line x1="75.20" y1="324.20" x2="75.20" y2="327.00" stroke="#231f20" stroke-width="1" />
<text x="75.20" y="336.80" font-size="8" fill="#231f20" text-anchor="middle" >-5</text>
<line x1="110.50" y1="324.20" x2="110.50" y2="327.00" stroke="#231f20" stroke-width="1" />
<text x="110.50" y="336.80" font-size="8" fill="#231f20" text-anchor="middle" >-2.5</text>
<line x1="145.80" y1="324.20" x2="145.80" y2="327.00" stroke="#231f20" stroke-width="1" />
<text x="145.80" y="336.80" font-size="8" fill="#231f20" text-anchor="middle" >0</text>
<line x1="181.10" y1="324.20" x2="181.10" y2="327.00" stroke="#231f20" stroke-width="1" />
<text x="181.10" y="336.80" font-size="8" fill="#231f20" text-anchor="middle" >2.5</text>
<line x1="216.40" y1="324.20" x2="216.40" y2="327.00" stroke="#231f20" stroke-width="1" />
<text x="216.40" y="336.80" font-size="8" fill="#231f20" text-anchor="middle" >5</text>
<text x="47.80" y="261.50" font-size="8.4" fill="#231f20" text-anchor="middle" textLength="53.00" lengthAdjust="spacingAndGlyphs" transform="rotate(-90 47.80 261.50)" >-Log<tspan font-size="5.2" dy="1.8">10</tspan><tspan dy="-1.8" font-style="italic"> P</tspan> value</text>
<text x="145.80" y="350.30" font-size="9.6" fill="#231f20" text-anchor="middle" textLength="34.00" lengthAdjust="spacingAndGlyphs" >Difference</text>
<g fill="#ececec"><circle cx="133.7" cy="283.9" r="1.7"/><circle cx="140.1" cy="279.0" r="1.7"/><circle cx="134.4" cy="286.2" r="1.7"/><circle cx="142.4" cy="279.8" r="1.7"/><circle cx="138.3" cy="273.4" r="1.7"/><circle cx="131.5" cy="276.5" r="1.7"/><circle cx="139.4" cy="269.6" r="1.7"/><circle cx="142.2" cy="273.3" r="1.7"/><circle cx="134.6" cy="269.0" r="1.7"/><circle cx="143.3" cy="282.2" r="1.7"/><circle cx="132.0" cy="275.6" r="1.7"/><circle cx="138.2" cy="270.7" r="1.7"/><circle cx="144.4" cy="276.5" r="1.7"/><circle cx="133.6" cy="286.8" r="1.7"/><circle cx="133.2" cy="289.3" r="1.7"/><circle cx="137.6" cy="280.7" r="1.7"/><circle cx="136.1" cy="279.1" r="1.7"/><circle cx="134.0" cy="268.9" r="1.7"/><circle cx="143.2" cy="273.4" r="1.7"/><circle cx="142.0" cy="272.8" r="1.7"/><circle cx="144.6" cy="288.6" r="1.7"/><circle cx="141.7" cy="285.5" r="1.7"/><circle cx="139.3" cy="284.8" r="1.7"/><circle cx="133.2" cy="279.0" r="1.7"/><circle cx="142.7" cy="272.6" r="1.7"/><circle cx="144.0" cy="288.4" r="1.7"/><circle cx="137.0" cy="276.4" r="1.7"/><circle cx="137.6" cy="276.9" r="1.7"/><circle cx="138.2" cy="279.3" r="1.7"/><circle cx="138.9" cy="285.2" r="1.7"/><circle cx="134.5" cy="282.0" r="1.7"/><circle cx="139.0" cy="282.3" r="1.7"/><circle cx="133.9" cy="271.9" r="1.7"/><circle cx="136.2" cy="289.3" r="1.7"/><circle cx="136.2" cy="281.7" r="1.7"/><circle cx="135.6" cy="270.4" r="1.7"/><circle cx="132.4" cy="286.7" r="1.7"/><circle cx="142.0" cy="276.6" r="1.7"/><circle cx="140.7" cy="283.5" r="1.7"/><circle cx="143.6" cy="290.0" r="1.7"/><circle cx="144.5" cy="281.6" r="1.7"/><circle cx="143.4" cy="279.3" r="1.7"/><circle cx="136.6" cy="273.7" r="1.7"/><circle cx="143.3" cy="271.7" r="1.7"/><circle cx="132.4" cy="286.5" r="1.7"/></g>
<g fill="#ececec"><circle cx="160.5" cy="271.1" r="1.7"/><circle cx="149.3" cy="290.0" r="1.7"/><circle cx="151.2" cy="270.7" r="1.7"/><circle cx="156.8" cy="275.6" r="1.7"/><circle cx="159.7" cy="273.1" r="1.7"/><circle cx="160.5" cy="275.0" r="1.7"/><circle cx="156.2" cy="288.5" r="1.7"/><circle cx="157.2" cy="288.3" r="1.7"/><circle cx="157.5" cy="269.1" r="1.7"/><circle cx="159.6" cy="281.0" r="1.7"/><circle cx="152.7" cy="272.2" r="1.7"/><circle cx="159.2" cy="280.8" r="1.7"/><circle cx="160.3" cy="285.0" r="1.7"/><circle cx="160.5" cy="280.5" r="1.7"/><circle cx="157.4" cy="281.5" r="1.7"/><circle cx="152.1" cy="289.0" r="1.7"/><circle cx="152.7" cy="285.2" r="1.7"/><circle cx="160.5" cy="282.3" r="1.7"/><circle cx="150.7" cy="286.2" r="1.7"/><circle cx="157.0" cy="272.1" r="1.7"/><circle cx="149.6" cy="279.7" r="1.7"/><circle cx="149.4" cy="288.4" r="1.7"/><circle cx="155.1" cy="279.4" r="1.7"/><circle cx="153.9" cy="282.5" r="1.7"/><circle cx="160.0" cy="274.8" r="1.7"/><circle cx="153.5" cy="280.8" r="1.7"/><circle cx="152.6" cy="281.1" r="1.7"/><circle cx="155.5" cy="277.5" r="1.7"/><circle cx="157.1" cy="279.6" r="1.7"/><circle cx="150.1" cy="289.9" r="1.7"/><circle cx="153.3" cy="277.5" r="1.7"/><circle cx="153.8" cy="288.4" r="1.7"/><circle cx="160.4" cy="279.3" r="1.7"/><circle cx="153.8" cy="270.1" r="1.7"/><circle cx="159.7" cy="271.8" r="1.7"/><circle cx="155.6" cy="275.7" r="1.7"/><circle cx="152.9" cy="275.9" r="1.7"/><circle cx="155.4" cy="285.5" r="1.7"/><circle cx="156.8" cy="272.4" r="1.7"/><circle cx="157.3" cy="269.1" r="1.7"/><circle cx="153.9" cy="286.2" r="1.7"/><circle cx="160.1" cy="278.1" r="1.7"/><circle cx="159.2" cy="279.0" r="1.7"/><circle cx="155.3" cy="280.9" r="1.7"/><circle cx="160.9" cy="284.4" r="1.7"/></g>
<path d="M132.50,291.00 L132.50,280.00 L138.00,276.00 L144.00,280.00 L144.50,291.00Z" fill="#ececec" stroke="none" stroke-width="1" />
<path d="M149.50,291.00 L150.00,280.00 L155.00,276.00 L160.00,279.00 L160.50,291.00Z" fill="#ececec" stroke="none" stroke-width="1" />
<circle cx="134.20" cy="232.30" r="1.7" fill="#ececec"/>
<circle cx="135.00" cy="241.50" r="1.7" fill="#ececec"/>
<circle cx="133.00" cy="243.00" r="1.7" fill="#ececec"/>
<circle cx="136.50" cy="257.00" r="1.7" fill="#ececec"/>
<circle cx="136.50" cy="261.50" r="1.7" fill="#ececec"/>
<circle cx="155.80" cy="247.00" r="1.7" fill="#ececec"/>
<circle cx="158.00" cy="250.80" r="1.7" fill="#ececec"/>
<circle cx="158.00" cy="257.70" r="1.7" fill="#ececec"/>
<g fill="#c8c8c8"><circle cx="130.3" cy="308.9" r="1.7"/><circle cx="129.5" cy="290.9" r="1.7"/><circle cx="122.5" cy="298.0" r="1.7"/><circle cx="121.1" cy="291.9" r="1.7"/><circle cx="113.3" cy="298.4" r="1.7"/><circle cx="113.9" cy="298.7" r="1.7"/><circle cx="125.3" cy="298.0" r="1.7"/><circle cx="120.7" cy="304.5" r="1.7"/><circle cx="117.1" cy="290.4" r="1.7"/><circle cx="127.0" cy="301.5" r="1.7"/><circle cx="124.1" cy="302.1" r="1.7"/><circle cx="131.3" cy="296.7" r="1.7"/><circle cx="126.4" cy="296.9" r="1.7"/><circle cx="122.1" cy="302.9" r="1.7"/><circle cx="116.1" cy="291.0" r="1.7"/><circle cx="119.8" cy="304.1" r="1.7"/><circle cx="122.5" cy="298.5" r="1.7"/><circle cx="123.7" cy="293.0" r="1.7"/><circle cx="112.9" cy="295.9" r="1.7"/><circle cx="127.7" cy="293.3" r="1.7"/><circle cx="111.5" cy="291.3" r="1.7"/><circle cx="109.7" cy="294.9" r="1.7"/><circle cx="122.1" cy="306.3" r="1.7"/><circle cx="116.5" cy="296.9" r="1.7"/><circle cx="115.5" cy="295.5" r="1.7"/><circle cx="126.8" cy="300.6" r="1.7"/><circle cx="114.8" cy="291.4" r="1.7"/><circle cx="127.0" cy="303.9" r="1.7"/><circle cx="128.0" cy="294.2" r="1.7"/><circle cx="127.5" cy="308.9" r="1.7"/><circle cx="126.2" cy="296.4" r="1.7"/><circle cx="131.4" cy="297.0" r="1.7"/><circle cx="113.3" cy="290.8" r="1.7"/><circle cx="119.6" cy="293.3" r="1.7"/><circle cx="130.5" cy="309.0" r="1.7"/><circle cx="113.8" cy="291.4" r="1.7"/><circle cx="121.1" cy="292.7" r="1.7"/><circle cx="121.4" cy="306.1" r="1.7"/><circle cx="114.7" cy="298.0" r="1.7"/><circle cx="129.7" cy="298.4" r="1.7"/><circle cx="127.7" cy="307.8" r="1.7"/><circle cx="124.8" cy="297.8" r="1.7"/><circle cx="124.9" cy="306.5" r="1.7"/><circle cx="123.6" cy="294.2" r="1.7"/><circle cx="115.6" cy="297.7" r="1.7"/><circle cx="126.7" cy="300.8" r="1.7"/><circle cx="121.6" cy="306.4" r="1.7"/><circle cx="116.5" cy="300.8" r="1.7"/><circle cx="128.2" cy="294.4" r="1.7"/><circle cx="130.9" cy="290.8" r="1.7"/><circle cx="121.8" cy="300.5" r="1.7"/><circle cx="114.3" cy="300.9" r="1.7"/><circle cx="119.7" cy="298.6" r="1.7"/><circle cx="125.5" cy="289.3" r="1.7"/><circle cx="112.8" cy="298.5" r="1.7"/><circle cx="118.6" cy="290.9" r="1.7"/><circle cx="125.0" cy="299.2" r="1.7"/><circle cx="124.8" cy="300.4" r="1.7"/><circle cx="121.7" cy="300.1" r="1.7"/><circle cx="128.8" cy="299.6" r="1.7"/></g>
<path d="M116.00,292.00 L125.80,290.50 L132.00,291.00 L132.00,308.00 L126.00,308.00 L118.00,300.00Z" fill="#c8c8c8" stroke="none" stroke-width="1" />
<g fill="#c8c8c8"><circle cx="163.7" cy="300.4" r="1.7"/><circle cx="162.3" cy="301.9" r="1.7"/><circle cx="163.1" cy="301.0" r="1.7"/><circle cx="171.1" cy="302.0" r="1.7"/><circle cx="167.2" cy="303.7" r="1.7"/><circle cx="174.8" cy="291.0" r="1.7"/><circle cx="171.3" cy="296.6" r="1.7"/><circle cx="162.2" cy="301.9" r="1.7"/><circle cx="172.8" cy="291.7" r="1.7"/><circle cx="165.6" cy="294.2" r="1.7"/><circle cx="168.6" cy="295.2" r="1.7"/><circle cx="165.4" cy="304.2" r="1.7"/><circle cx="162.0" cy="290.6" r="1.7"/><circle cx="170.3" cy="302.6" r="1.7"/><circle cx="173.0" cy="293.5" r="1.7"/><circle cx="162.3" cy="297.4" r="1.7"/><circle cx="163.2" cy="291.4" r="1.7"/><circle cx="167.7" cy="300.4" r="1.7"/><circle cx="174.6" cy="291.2" r="1.7"/><circle cx="171.7" cy="298.0" r="1.7"/><circle cx="164.4" cy="299.7" r="1.7"/><circle cx="164.7" cy="299.9" r="1.7"/><circle cx="170.1" cy="295.7" r="1.7"/><circle cx="172.1" cy="295.9" r="1.7"/><circle cx="167.6" cy="303.1" r="1.7"/><circle cx="164.5" cy="292.2" r="1.7"/><circle cx="169.0" cy="296.4" r="1.7"/><circle cx="173.2" cy="293.2" r="1.7"/><circle cx="166.2" cy="290.0" r="1.7"/><circle cx="167.3" cy="294.3" r="1.7"/></g>
<path d="M161.00,290.00 L167.00,290.00 L171.00,293.00 L168.00,300.00 L161.00,303.00Z" fill="#c8c8c8" stroke="none" stroke-width="1" />
<circle cx="111.90" cy="310.80" r="1.7" fill="#c8c8c8"/>
<circle cx="177.00" cy="295.00" r="1.7" fill="#c8c8c8"/>
<circle cx="173.00" cy="301.00" r="1.7" fill="#c8c8c8"/>
<circle cx="124.00" cy="313.00" r="1.7" fill="#c8c8c8"/>
<path d="M131.20,291.50 L135.00,290.00 L141.20,289.20 L145.80,296.20 L150.40,290.00 L156.50,289.20 L161.20,290.80 L161.90,299.20 L159.60,310.00 L145.80,319.50 L133.50,310.00 L131.90,299.20Z" fill="#4b4b4b" stroke="none" stroke-width="1" />
<circle cx="131.05" cy="292.01" r="1.55" fill="#4b4b4b"/>
<circle cx="135.41" cy="289.66" r="1.55" fill="#4b4b4b"/>
<circle cx="138.55" cy="289.76" r="1.55" fill="#4b4b4b"/>
<circle cx="140.65" cy="289.74" r="1.55" fill="#4b4b4b"/>
<circle cx="142.44" cy="291.30" r="1.55" fill="#4b4b4b"/>
<circle cx="144.18" cy="293.97" r="1.55" fill="#4b4b4b"/>
<circle cx="145.35" cy="296.42" r="1.55" fill="#4b4b4b"/>
<circle cx="147.73" cy="294.15" r="1.55" fill="#4b4b4b"/>
<circle cx="149.22" cy="292.22" r="1.55" fill="#4b4b4b"/>
<circle cx="150.79" cy="289.62" r="1.55" fill="#4b4b4b"/>
<circle cx="153.28" cy="289.56" r="1.55" fill="#4b4b4b"/>
<circle cx="156.02" cy="289.77" r="1.55" fill="#4b4b4b"/>
<circle cx="159.01" cy="289.52" r="1.55" fill="#4b4b4b"/>
<circle cx="161.30" cy="290.70" r="1.55" fill="#4b4b4b"/>
<circle cx="161.06" cy="293.19" r="1.55" fill="#4b4b4b"/>
<circle cx="161.62" cy="295.88" r="1.55" fill="#4b4b4b"/>
<circle cx="161.98" cy="299.22" r="1.55" fill="#4b4b4b"/>
<circle cx="160.99" cy="301.81" r="1.55" fill="#4b4b4b"/>
<circle cx="160.43" cy="303.13" r="1.55" fill="#4b4b4b"/>
<circle cx="160.90" cy="305.34" r="1.55" fill="#4b4b4b"/>
<circle cx="159.97" cy="307.91" r="1.55" fill="#4b4b4b"/>
<circle cx="159.52" cy="309.99" r="1.55" fill="#4b4b4b"/>
<circle cx="157.63" cy="311.34" r="1.55" fill="#4b4b4b"/>
<circle cx="155.13" cy="313.09" r="1.55" fill="#4b4b4b"/>
<circle cx="153.43" cy="313.53" r="1.55" fill="#4b4b4b"/>
<circle cx="151.60" cy="315.81" r="1.55" fill="#4b4b4b"/>
<circle cx="149.90" cy="316.73" r="1.55" fill="#4b4b4b"/>
<circle cx="147.75" cy="317.81" r="1.55" fill="#4b4b4b"/>
<circle cx="145.94" cy="319.32" r="1.55" fill="#4b4b4b"/>
<circle cx="143.52" cy="317.70" r="1.55" fill="#4b4b4b"/>
<circle cx="141.80" cy="317.01" r="1.55" fill="#4b4b4b"/>
<circle cx="140.99" cy="315.74" r="1.55" fill="#4b4b4b"/>
<circle cx="138.43" cy="313.65" r="1.55" fill="#4b4b4b"/>
<circle cx="137.55" cy="312.56" r="1.55" fill="#4b4b4b"/>
<circle cx="134.86" cy="311.44" r="1.55" fill="#4b4b4b"/>
<circle cx="133.64" cy="310.05" r="1.55" fill="#4b4b4b"/>
<circle cx="133.04" cy="307.06" r="1.55" fill="#4b4b4b"/>
<circle cx="132.69" cy="304.55" r="1.55" fill="#4b4b4b"/>
<circle cx="132.52" cy="301.84" r="1.55" fill="#4b4b4b"/>
<circle cx="131.73" cy="299.78" r="1.55" fill="#4b4b4b"/>
<circle cx="131.20" cy="296.94" r="1.55" fill="#4b4b4b"/>
<circle cx="131.33" cy="294.43" r="1.55" fill="#4b4b4b"/>
<g fill="#ac4793"><circle cx="128.0" cy="271.1" r="1.75"/><circle cx="119.3" cy="281.0" r="1.75"/><circle cx="116.9" cy="285.4" r="1.75"/><circle cx="128.2" cy="267.0" r="1.75"/><circle cx="126.9" cy="278.6" r="1.75"/><circle cx="126.2" cy="289.8" r="1.75"/><circle cx="131.8" cy="276.2" r="1.75"/><circle cx="129.5" cy="285.7" r="1.75"/><circle cx="131.5" cy="266.7" r="1.75"/><circle cx="131.0" cy="271.6" r="1.75"/><circle cx="118.1" cy="280.9" r="1.75"/><circle cx="129.4" cy="289.9" r="1.75"/><circle cx="121.8" cy="286.7" r="1.75"/><circle cx="116.5" cy="290.2" r="1.75"/><circle cx="120.7" cy="279.6" r="1.75"/><circle cx="125.0" cy="286.4" r="1.75"/><circle cx="129.6" cy="276.6" r="1.75"/><circle cx="129.6" cy="271.0" r="1.75"/><circle cx="130.1" cy="272.3" r="1.75"/><circle cx="131.0" cy="275.6" r="1.75"/><circle cx="122.8" cy="279.0" r="1.75"/><circle cx="124.7" cy="283.9" r="1.75"/><circle cx="121.9" cy="285.5" r="1.75"/><circle cx="131.8" cy="268.3" r="1.75"/><circle cx="128.5" cy="289.6" r="1.75"/><circle cx="127.3" cy="280.5" r="1.75"/><circle cx="118.1" cy="290.0" r="1.75"/><circle cx="121.6" cy="288.7" r="1.75"/><circle cx="128.2" cy="285.4" r="1.75"/><circle cx="130.6" cy="283.4" r="1.75"/><circle cx="121.6" cy="277.7" r="1.75"/><circle cx="124.4" cy="290.3" r="1.75"/><circle cx="125.9" cy="286.5" r="1.75"/><circle cx="123.6" cy="280.6" r="1.75"/><circle cx="129.0" cy="266.9" r="1.75"/><circle cx="120.7" cy="276.7" r="1.75"/><circle cx="126.9" cy="276.6" r="1.75"/><circle cx="116.4" cy="289.5" r="1.75"/><circle cx="123.8" cy="289.4" r="1.75"/><circle cx="126.4" cy="279.7" r="1.75"/></g>
<path d="M120.00,290.00 L122.00,282.00 L126.00,278.00 L130.00,274.00 L131.50,276.00 L131.50,290.00Z" fill="#ac4793" stroke="none" stroke-width="1" />
<circle cx="129.80" cy="256.00" r="1.75" fill="#ac4793"/>
<circle cx="104.90" cy="283.60" r="1.75" fill="#ac4793"/>
<circle cx="108.30" cy="287.00" r="1.75" fill="#ac4793"/>
<circle cx="110.30" cy="288.40" r="1.75" fill="#ac4793"/>
<circle cx="120.40" cy="272.20" r="1.75" fill="#ac4793"/>
<circle cx="123.00" cy="268.20" r="1.75" fill="#ac4793"/>
<circle cx="129.10" cy="265.50" r="1.75" fill="#ac4793"/>
<circle cx="131.00" cy="267.00" r="1.75" fill="#ac4793"/>
<circle cx="118.40" cy="278.30" r="1.75" fill="#ac4793"/>
<circle cx="96.80" cy="271.30" r="1.75" fill="#ac4793"/>
<circle cx="114.00" cy="290.00" r="1.75" fill="#ac4793"/>
<circle cx="117.00" cy="289.00" r="1.75" fill="#ac4793"/>
<g fill="#fbe717"><circle cx="166.7" cy="280.0" r="1.75"/><circle cx="160.7" cy="284.5" r="1.75"/><circle cx="163.5" cy="267.8" r="1.75"/><circle cx="168.5" cy="260.8" r="1.75"/><circle cx="169.5" cy="272.2" r="1.75"/><circle cx="160.7" cy="288.0" r="1.75"/><circle cx="166.0" cy="256.9" r="1.75"/><circle cx="168.7" cy="282.7" r="1.75"/><circle cx="167.7" cy="278.3" r="1.75"/><circle cx="170.1" cy="277.8" r="1.75"/><circle cx="162.6" cy="276.7" r="1.75"/><circle cx="163.5" cy="278.1" r="1.75"/><circle cx="167.3" cy="273.4" r="1.75"/><circle cx="161.0" cy="268.5" r="1.75"/><circle cx="163.1" cy="281.7" r="1.75"/><circle cx="169.7" cy="282.7" r="1.75"/><circle cx="165.5" cy="260.3" r="1.75"/><circle cx="167.4" cy="263.8" r="1.75"/><circle cx="168.1" cy="266.8" r="1.75"/><circle cx="166.0" cy="269.4" r="1.75"/><circle cx="163.2" cy="270.2" r="1.75"/><circle cx="168.5" cy="267.1" r="1.75"/><circle cx="163.8" cy="282.9" r="1.75"/><circle cx="161.8" cy="267.2" r="1.75"/><circle cx="165.4" cy="273.1" r="1.75"/><circle cx="161.8" cy="282.3" r="1.75"/><circle cx="165.1" cy="257.4" r="1.75"/><circle cx="163.5" cy="256.1" r="1.75"/><circle cx="163.6" cy="258.2" r="1.75"/><circle cx="162.6" cy="274.6" r="1.75"/><circle cx="167.2" cy="265.1" r="1.75"/><circle cx="164.8" cy="273.0" r="1.75"/><circle cx="166.1" cy="287.6" r="1.75"/><circle cx="162.3" cy="282.6" r="1.75"/><circle cx="165.8" cy="287.1" r="1.75"/><circle cx="160.6" cy="283.5" r="1.75"/><circle cx="163.1" cy="276.7" r="1.75"/><circle cx="161.0" cy="274.8" r="1.75"/><circle cx="164.3" cy="271.0" r="1.75"/><circle cx="160.0" cy="287.1" r="1.75"/><circle cx="168.8" cy="281.5" r="1.75"/><circle cx="166.5" cy="262.4" r="1.75"/><circle cx="162.0" cy="285.0" r="1.75"/><circle cx="163.4" cy="268.2" r="1.75"/><circle cx="169.2" cy="266.8" r="1.75"/></g>
<path d="M161.00,261.00 L164.00,258.00 L168.00,261.00 L169.50,289.00 L161.00,289.00Z" fill="#fbe717" stroke="none" stroke-width="1" />
<circle cx="199.30" cy="197.80" r="1.75" fill="#fbe717"/>
<circle cx="175.40" cy="229.60" r="1.75" fill="#fbe717"/>
<circle cx="162.50" cy="237.00" r="1.75" fill="#fbe717"/>
<circle cx="161.00" cy="239.30" r="1.75" fill="#fbe717"/>
<circle cx="180.50" cy="248.70" r="1.75" fill="#fbe717"/>
<circle cx="186.00" cy="254.20" r="1.75" fill="#fbe717"/>
<circle cx="160.20" cy="254.20" r="1.75" fill="#fbe717"/>
<circle cx="168.80" cy="255.00" r="1.75" fill="#fbe717"/>
<circle cx="163.00" cy="256.00" r="1.75" fill="#fbe717"/>
<circle cx="179.00" cy="260.40" r="1.75" fill="#fbe717"/>
<circle cx="172.70" cy="269.00" r="1.75" fill="#fbe717"/>
<circle cx="175.80" cy="269.00" r="1.75" fill="#fbe717"/>
<circle cx="176.60" cy="281.50" r="1.75" fill="#fbe717"/>
<circle cx="198.50" cy="282.30" r="1.75" fill="#fbe717"/>
<circle cx="176.60" cy="287.80" r="1.75" fill="#fbe717"/>
<circle cx="183.60" cy="287.80" r="1.75" fill="#fbe717"/>
<circle cx="171.00" cy="276.00" r="1.75" fill="#fbe717"/>
<circle cx="173.00" cy="285.00" r="1.75" fill="#fbe717"/>
<text x="184.70" y="205.60" font-size="8.2" fill="#231f20" textLength="24.50" lengthAdjust="spacingAndGlyphs" >S100a4</text>
<text x="168.00" y="236.60" font-size="8.2" fill="#231f20" textLength="19.20" lengthAdjust="spacingAndGlyphs" >Cyth4</text>
<text x="160.20" y="244.50" font-size="8.2" fill="#231f20" textLength="25.50" lengthAdjust="spacingAndGlyphs" >Atp2c1</text>
<text x="183.60" y="249.50" font-size="8.2" fill="#231f20" textLength="15.40" lengthAdjust="spacingAndGlyphs" >Scd1</text>
<text x="161.00" y="262.80" font-size="8.2" fill="#231f20" textLength="14.80" lengthAdjust="spacingAndGlyphs" >Akt1</text>
<text x="171.60" y="280.00" font-size="8.2" fill="#231f20" textLength="16.70" lengthAdjust="spacingAndGlyphs" >Cdk1</text>
<text x="191.00" y="289.40" font-size="8.2" fill="#231f20" textLength="18.50" lengthAdjust="spacingAndGlyphs" >Padi4</text>
<text x="86.10" y="276.20" font-size="8.2" fill="#231f20" textLength="10.10" lengthAdjust="spacingAndGlyphs" >Sfn</text>
<text x="110.30" y="271.50" font-size="8.2" fill="#231f20" textLength="20.80" lengthAdjust="spacingAndGlyphs" >Pdcd4</text>
<text x="87.40" y="289.00" font-size="8.2" fill="#231f20" textLength="15.50" lengthAdjust="spacingAndGlyphs" >A2m</text>
<text x="127.10" y="289.00" font-size="8.2" fill="#231f20" textLength="20.90" lengthAdjust="spacingAndGlyphs" >Nfatc1</text>
<text x="374.20" y="161.90" font-size="9" fill="#231f20" text-anchor="middle" textLength="85.40" lengthAdjust="spacingAndGlyphs" >Phosphoproteomics</text>
<circle cx="340.20" cy="170.60" r="1.85" fill="#4b4b4b"/>
<text x="343.50" y="173.10" font-size="6.6" fill="#231f20" textLength="10.50" lengthAdjust="spacingAndGlyphs" >NS</text>
<circle cx="361.20" cy="170.60" r="1.85" fill="#c8c8c8"/>
<text x="365.00" y="173.10" font-size="6.6" fill="#231f20" textLength="34.20" lengthAdjust="spacingAndGlyphs" >Difference</text>
<circle cx="404.20" cy="170.60" r="1.85" fill="#ececec"/>
<text x="408.70" y="173.10" font-size="6.6" fill="#231f20" textLength="23.00" lengthAdjust="spacingAndGlyphs" ><tspan font-style="italic">P</tspan>&lt;0.05</text>
<circle cx="312.70" cy="184.00" r="1.85" fill="#ac4793"/>
<text x="316.90" y="186.40" font-size="6.6" fill="#231f20" textLength="81.40" lengthAdjust="spacingAndGlyphs" >&lt;-1 Difference &amp; <tspan font-style="italic">P</tspan>&lt;0.05</text>
<circle cx="407.30" cy="184.00" r="1.85" fill="#fbe717"/>
<text x="411.20" y="186.40" font-size="6.6" fill="#231f20" textLength="78.80" lengthAdjust="spacingAndGlyphs" >&gt;1 Difference &amp; <tspan font-style="italic">P</tspan>&lt;0.05</text>
<line x1="296.30" y1="190.50" x2="296.30" y2="324.40" stroke="#231f20" stroke-width="1.1" />
<line x1="295.80" y1="323.90" x2="451.60" y2="323.90" stroke="#231f20" stroke-width="1.1" />
<line x1="293.00" y1="317.90" x2="296.30" y2="317.90" stroke="#231f20" stroke-width="1" />
<text x="290.80" y="320.80" font-size="8.2" fill="#231f20" text-anchor="end" >0</text>
<line x1="293.00" y1="292.90" x2="296.30" y2="292.90" stroke="#231f20" stroke-width="1" />
<text x="290.80" y="295.80" font-size="8.2" fill="#231f20" text-anchor="end" >1</text>
<line x1="293.00" y1="267.90" x2="296.30" y2="267.90" stroke="#231f20" stroke-width="1" />
<text x="290.80" y="270.80" font-size="8.2" fill="#231f20" text-anchor="end" >2</text>
<line x1="293.00" y1="242.90" x2="296.30" y2="242.90" stroke="#231f20" stroke-width="1" />
<text x="290.80" y="245.80" font-size="8.2" fill="#231f20" text-anchor="end" >3</text>
<line x1="293.00" y1="217.90" x2="296.30" y2="217.90" stroke="#231f20" stroke-width="1" />
<text x="290.80" y="220.80" font-size="8.2" fill="#231f20" text-anchor="end" >4</text>
<line x1="293.00" y1="192.90" x2="296.30" y2="192.90" stroke="#231f20" stroke-width="1" />
<text x="290.80" y="195.80" font-size="8.2" fill="#231f20" text-anchor="end" >5</text>
<line x1="304.40" y1="323.90" x2="304.40" y2="326.70" stroke="#231f20" stroke-width="1" />
<text x="304.40" y="336.50" font-size="8" fill="#231f20" text-anchor="middle" >-10</text>
<line x1="339.40" y1="323.90" x2="339.40" y2="326.70" stroke="#231f20" stroke-width="1" />
<text x="339.40" y="336.50" font-size="8" fill="#231f20" text-anchor="middle" >-5</text>
<line x1="374.40" y1="323.90" x2="374.40" y2="326.70" stroke="#231f20" stroke-width="1" />
<text x="374.40" y="336.50" font-size="8" fill="#231f20" text-anchor="middle" >0</text>
<line x1="409.40" y1="323.90" x2="409.40" y2="326.70" stroke="#231f20" stroke-width="1" />
<text x="409.40" y="336.50" font-size="8" fill="#231f20" text-anchor="middle" >5</text>
<line x1="444.40" y1="323.90" x2="444.40" y2="326.70" stroke="#231f20" stroke-width="1" />
<text x="444.40" y="336.50" font-size="8" fill="#231f20" text-anchor="middle" >10</text>
<text x="276.20" y="257.20" font-size="8.4" fill="#231f20" text-anchor="middle" textLength="53.00" lengthAdjust="spacingAndGlyphs" transform="rotate(-90 276.20 257.20)" >-Log<tspan font-size="5.2" dy="1.8">10</tspan><tspan dy="-1.8" font-style="italic"> P</tspan> value</text>
<text x="374.40" y="350.30" font-size="9.6" fill="#231f20" text-anchor="middle" textLength="34.00" lengthAdjust="spacingAndGlyphs" >Difference</text>
<path d="M364.00,252.00 L367.00,246.00 L371.00,250.00 L374.00,256.00 L378.00,248.00 L381.00,244.00 L382.00,286.00 L362.00,286.00Z" fill="#ececec" stroke="none" stroke-width="1" />
<circle cx="363.41" cy="251.53" r="1.55" fill="#ececec"/>
<circle cx="364.87" cy="250.22" r="1.55" fill="#ececec"/>
<circle cx="365.57" cy="247.53" r="1.55" fill="#ececec"/>
<circle cx="366.68" cy="246.31" r="1.55" fill="#ececec"/>
<circle cx="368.58" cy="248.29" r="1.55" fill="#ececec"/>
<circle cx="371.19" cy="249.56" r="1.55" fill="#ececec"/>
<circle cx="372.04" cy="251.94" r="1.55" fill="#ececec"/>
<circle cx="372.90" cy="254.60" r="1.55" fill="#ececec"/>
<circle cx="373.51" cy="255.42" r="1.55" fill="#ececec"/>
<circle cx="375.53" cy="253.88" r="1.55" fill="#ececec"/>
<circle cx="375.64" cy="251.80" r="1.55" fill="#ececec"/>
<circle cx="376.84" cy="250.55" r="1.55" fill="#ececec"/>
<circle cx="377.65" cy="247.66" r="1.55" fill="#ececec"/>
<circle cx="379.60" cy="246.06" r="1.55" fill="#ececec"/>
<circle cx="381.54" cy="244.41" r="1.55" fill="#ececec"/>
<circle cx="380.88" cy="245.86" r="1.55" fill="#ececec"/>
<circle cx="381.51" cy="249.01" r="1.55" fill="#ececec"/>
<circle cx="380.59" cy="250.91" r="1.55" fill="#ececec"/>
<circle cx="381.65" cy="253.02" r="1.55" fill="#ececec"/>
<circle cx="380.93" cy="255.41" r="1.55" fill="#ececec"/>
<circle cx="381.59" cy="256.90" r="1.55" fill="#ececec"/>
<circle cx="381.54" cy="259.14" r="1.55" fill="#ececec"/>
<circle cx="380.87" cy="261.49" r="1.55" fill="#ececec"/>
<circle cx="381.27" cy="263.77" r="1.55" fill="#ececec"/>
<circle cx="381.70" cy="266.51" r="1.55" fill="#ececec"/>
<circle cx="382.13" cy="268.89" r="1.55" fill="#ececec"/>
<circle cx="382.22" cy="270.87" r="1.55" fill="#ececec"/>
<circle cx="381.45" cy="272.35" r="1.55" fill="#ececec"/>
<circle cx="381.89" cy="275.00" r="1.55" fill="#ececec"/>
<circle cx="382.00" cy="276.67" r="1.55" fill="#ececec"/>
<circle cx="381.47" cy="279.87" r="1.55" fill="#ececec"/>
<circle cx="382.02" cy="281.81" r="1.55" fill="#ececec"/>
<circle cx="381.46" cy="283.67" r="1.55" fill="#ececec"/>
<circle cx="382.49" cy="286.18" r="1.55" fill="#ececec"/>
<circle cx="380.37" cy="285.64" r="1.55" fill="#ececec"/>
<circle cx="377.50" cy="286.36" r="1.55" fill="#ececec"/>
<circle cx="375.27" cy="286.35" r="1.55" fill="#ececec"/>
<circle cx="373.19" cy="285.54" r="1.55" fill="#ececec"/>
<circle cx="370.41" cy="286.58" r="1.55" fill="#ececec"/>
<circle cx="368.21" cy="285.63" r="1.55" fill="#ececec"/>
<circle cx="366.25" cy="286.26" r="1.55" fill="#ececec"/>
<circle cx="364.65" cy="285.97" r="1.55" fill="#ececec"/>
<circle cx="362.00" cy="286.35" r="1.55" fill="#ececec"/>
<circle cx="361.87" cy="283.58" r="1.55" fill="#ececec"/>
<circle cx="362.40" cy="281.63" r="1.55" fill="#ececec"/>
<circle cx="361.85" cy="278.73" r="1.55" fill="#ececec"/>
<circle cx="362.10" cy="277.20" r="1.55" fill="#ececec"/>
<circle cx="362.90" cy="275.23" r="1.55" fill="#ececec"/>
<circle cx="363.12" cy="272.11" r="1.55" fill="#ececec"/>
<circle cx="363.25" cy="270.72" r="1.55" fill="#ececec"/>
<circle cx="362.89" cy="267.28" r="1.55" fill="#ececec"/>
<circle cx="363.05" cy="265.34" r="1.55" fill="#ececec"/>
<circle cx="362.94" cy="262.79" r="1.55" fill="#ececec"/>
<circle cx="363.02" cy="261.50" r="1.55" fill="#ececec"/>
<circle cx="363.06" cy="258.94" r="1.55" fill="#ececec"/>
<circle cx="363.38" cy="256.17" r="1.55" fill="#ececec"/>
<circle cx="364.25" cy="254.03" r="1.55" fill="#ececec"/>
<circle cx="368.50" cy="214.00" r="1.8" fill="#ececec"/>
<circle cx="369.00" cy="222.00" r="1.8" fill="#ececec"/>
<circle cx="369.40" cy="232.30" r="1.8" fill="#ececec"/>
<circle cx="366.00" cy="238.00" r="1.8" fill="#ececec"/>
<circle cx="379.00" cy="242.00" r="1.8" fill="#ececec"/>
<circle cx="374.00" cy="236.00" r="1.8" fill="#ececec"/>
<circle cx="368.00" cy="241.00" r="1.8" fill="#ececec"/>
<circle cx="371.00" cy="244.00" r="1.8" fill="#ececec"/>
<path d="M339.90,285.70 L366.80,285.70 L366.80,316.60 L355.80,308.70 L345.90,299.70 L339.90,290.70Z" fill="#c8c8c8" stroke="none" stroke-width="1" />
<circle cx="339.39" cy="285.36" r="1.55" fill="#c8c8c8"/>
<circle cx="341.91" cy="286.18" r="1.55" fill="#c8c8c8"/>
<circle cx="344.38" cy="285.96" r="1.55" fill="#c8c8c8"/>
<circle cx="346.15" cy="285.71" r="1.55" fill="#c8c8c8"/>
<circle cx="349.28" cy="285.73" r="1.55" fill="#c8c8c8"/>
<circle cx="351.64" cy="286.16" r="1.55" fill="#c8c8c8"/>
<circle cx="353.20" cy="285.10" r="1.55" fill="#c8c8c8"/>
<circle cx="355.90" cy="285.25" r="1.55" fill="#c8c8c8"/>
<circle cx="357.24" cy="285.98" r="1.55" fill="#c8c8c8"/>
<circle cx="360.49" cy="286.10" r="1.55" fill="#c8c8c8"/>
<circle cx="362.86" cy="285.34" r="1.55" fill="#c8c8c8"/>
<circle cx="364.06" cy="285.24" r="1.55" fill="#c8c8c8"/>
<circle cx="367.37" cy="285.23" r="1.55" fill="#c8c8c8"/>
<circle cx="366.39" cy="287.33" r="1.55" fill="#c8c8c8"/>
<circle cx="366.26" cy="289.56" r="1.55" fill="#c8c8c8"/>
<circle cx="366.62" cy="291.92" r="1.55" fill="#c8c8c8"/>
<circle cx="366.57" cy="295.04" r="1.55" fill="#c8c8c8"/>
<circle cx="366.40" cy="297.11" r="1.55" fill="#c8c8c8"/>
<circle cx="367.09" cy="299.03" r="1.55" fill="#c8c8c8"/>
<circle cx="366.89" cy="301.47" r="1.55" fill="#c8c8c8"/>
<circle cx="366.90" cy="303.03" r="1.55" fill="#c8c8c8"/>
<circle cx="366.60" cy="305.26" r="1.55" fill="#c8c8c8"/>
<circle cx="366.68" cy="308.36" r="1.55" fill="#c8c8c8"/>
<circle cx="366.71" cy="309.46" r="1.55" fill="#c8c8c8"/>
<circle cx="366.77" cy="312.56" r="1.55" fill="#c8c8c8"/>
<circle cx="366.73" cy="314.64" r="1.55" fill="#c8c8c8"/>
<circle cx="366.31" cy="316.07" r="1.55" fill="#c8c8c8"/>
<circle cx="365.16" cy="314.74" r="1.55" fill="#c8c8c8"/>
<circle cx="362.90" cy="313.83" r="1.55" fill="#c8c8c8"/>
<circle cx="360.93" cy="312.09" r="1.55" fill="#c8c8c8"/>
<circle cx="358.87" cy="311.88" r="1.55" fill="#c8c8c8"/>
<circle cx="357.86" cy="310.56" r="1.55" fill="#c8c8c8"/>
<circle cx="355.79" cy="309.25" r="1.55" fill="#c8c8c8"/>
<circle cx="354.59" cy="307.34" r="1.55" fill="#c8c8c8"/>
<circle cx="352.53" cy="305.71" r="1.55" fill="#c8c8c8"/>
<circle cx="350.52" cy="304.05" r="1.55" fill="#c8c8c8"/>
<circle cx="349.47" cy="302.33" r="1.55" fill="#c8c8c8"/>
<circle cx="347.97" cy="301.21" r="1.55" fill="#c8c8c8"/>
<circle cx="346.03" cy="300.09" r="1.55" fill="#c8c8c8"/>
<circle cx="344.58" cy="297.02" r="1.55" fill="#c8c8c8"/>
<circle cx="342.60" cy="294.60" r="1.55" fill="#c8c8c8"/>
<circle cx="340.83" cy="293.49" r="1.55" fill="#c8c8c8"/>
<circle cx="340.01" cy="291.26" r="1.55" fill="#c8c8c8"/>
<circle cx="340.24" cy="287.98" r="1.55" fill="#c8c8c8"/>
<path d="M381.90,284.20 L401.20,288.00 L403.00,299.60 L393.50,307.30 L381.90,315.00Z" fill="#c8c8c8" stroke="none" stroke-width="1" />
<circle cx="381.98" cy="284.36" r="1.55" fill="#c8c8c8"/>
<circle cx="384.69" cy="284.41" r="1.55" fill="#c8c8c8"/>
<circle cx="386.91" cy="285.62" r="1.55" fill="#c8c8c8"/>
<circle cx="389.63" cy="285.25" r="1.55" fill="#c8c8c8"/>
<circle cx="391.73" cy="286.24" r="1.55" fill="#c8c8c8"/>
<circle cx="393.97" cy="287.13" r="1.55" fill="#c8c8c8"/>
<circle cx="396.41" cy="286.98" r="1.55" fill="#c8c8c8"/>
<circle cx="399.32" cy="287.69" r="1.55" fill="#c8c8c8"/>
<circle cx="400.96" cy="287.77" r="1.55" fill="#c8c8c8"/>
<circle cx="401.56" cy="289.78" r="1.55" fill="#c8c8c8"/>
<circle cx="402.05" cy="292.92" r="1.55" fill="#c8c8c8"/>
<circle cx="402.19" cy="295.38" r="1.55" fill="#c8c8c8"/>
<circle cx="403.15" cy="297.35" r="1.55" fill="#c8c8c8"/>
<circle cx="403.22" cy="299.14" r="1.55" fill="#c8c8c8"/>
<circle cx="400.57" cy="301.72" r="1.55" fill="#c8c8c8"/>
<circle cx="398.94" cy="302.34" r="1.55" fill="#c8c8c8"/>
<circle cx="397.78" cy="304.52" r="1.55" fill="#c8c8c8"/>
<circle cx="394.95" cy="305.55" r="1.55" fill="#c8c8c8"/>
<circle cx="393.19" cy="307.03" r="1.55" fill="#c8c8c8"/>
<circle cx="390.97" cy="308.61" r="1.55" fill="#c8c8c8"/>
<circle cx="389.40" cy="309.74" r="1.55" fill="#c8c8c8"/>
<circle cx="387.32" cy="310.68" r="1.55" fill="#c8c8c8"/>
<circle cx="385.21" cy="312.88" r="1.55" fill="#c8c8c8"/>
<circle cx="384.13" cy="313.79" r="1.55" fill="#c8c8c8"/>
<circle cx="381.45" cy="314.58" r="1.55" fill="#c8c8c8"/>
<circle cx="381.44" cy="312.58" r="1.55" fill="#c8c8c8"/>
<circle cx="381.37" cy="310.33" r="1.55" fill="#c8c8c8"/>
<circle cx="381.54" cy="308.03" r="1.55" fill="#c8c8c8"/>
<circle cx="382.08" cy="306.15" r="1.55" fill="#c8c8c8"/>
<circle cx="381.87" cy="303.83" r="1.55" fill="#c8c8c8"/>
<circle cx="381.95" cy="302.14" r="1.55" fill="#c8c8c8"/>
<circle cx="381.67" cy="299.08" r="1.55" fill="#c8c8c8"/>
<circle cx="381.88" cy="297.26" r="1.55" fill="#c8c8c8"/>
<circle cx="382.24" cy="294.73" r="1.55" fill="#c8c8c8"/>
<circle cx="382.35" cy="292.42" r="1.55" fill="#c8c8c8"/>
<circle cx="381.95" cy="290.73" r="1.55" fill="#c8c8c8"/>
<circle cx="381.68" cy="289.07" r="1.55" fill="#c8c8c8"/>
<circle cx="382.14" cy="286.00" r="1.55" fill="#c8c8c8"/>
<circle cx="405.00" cy="289.00" r="1.6" fill="#c8c8c8"/>
<circle cx="339.00" cy="289.00" r="1.6" fill="#c8c8c8"/>
<path d="M365.60,286.20 L369.40,284.60 L373.30,288.00 L377.10,284.60 L381.90,286.20 L381.00,301.50 L381.90,313.00 L374.20,319.80 L366.50,315.00 L366.00,301.00Z" fill="#4b4b4b" stroke="none" stroke-width="1" />
<circle cx="365.63" cy="286.30" r="1.55" fill="#4b4b4b"/>
<circle cx="369.81" cy="285.08" r="1.55" fill="#4b4b4b"/>
<circle cx="371.81" cy="286.14" r="1.55" fill="#4b4b4b"/>
<circle cx="373.84" cy="287.91" r="1.55" fill="#4b4b4b"/>
<circle cx="374.97" cy="285.81" r="1.55" fill="#4b4b4b"/>
<circle cx="377.11" cy="284.19" r="1.55" fill="#4b4b4b"/>
<circle cx="379.23" cy="285.53" r="1.55" fill="#4b4b4b"/>
<circle cx="382.23" cy="286.50" r="1.55" fill="#4b4b4b"/>
<circle cx="381.25" cy="288.22" r="1.55" fill="#4b4b4b"/>
<circle cx="381.31" cy="291.36" r="1.55" fill="#4b4b4b"/>
<circle cx="381.86" cy="294.21" r="1.55" fill="#4b4b4b"/>
<circle cx="381.82" cy="296.51" r="1.55" fill="#4b4b4b"/>
<circle cx="381.31" cy="298.70" r="1.55" fill="#4b4b4b"/>
<circle cx="380.78" cy="301.15" r="1.55" fill="#4b4b4b"/>
<circle cx="381.22" cy="303.93" r="1.55" fill="#4b4b4b"/>
<circle cx="381.45" cy="305.97" r="1.55" fill="#4b4b4b"/>
<circle cx="381.45" cy="308.10" r="1.55" fill="#4b4b4b"/>
<circle cx="382.10" cy="310.80" r="1.55" fill="#4b4b4b"/>
<circle cx="382.20" cy="313.37" r="1.55" fill="#4b4b4b"/>
<circle cx="379.71" cy="314.24" r="1.55" fill="#4b4b4b"/>
<circle cx="377.79" cy="316.89" r="1.55" fill="#4b4b4b"/>
<circle cx="376.47" cy="317.99" r="1.55" fill="#4b4b4b"/>
<circle cx="374.53" cy="319.61" r="1.55" fill="#4b4b4b"/>
<circle cx="372.71" cy="318.11" r="1.55" fill="#4b4b4b"/>
<circle cx="370.64" cy="317.98" r="1.55" fill="#4b4b4b"/>
<circle cx="368.33" cy="316.15" r="1.55" fill="#4b4b4b"/>
<circle cx="366.06" cy="314.73" r="1.55" fill="#4b4b4b"/>
<circle cx="366.10" cy="312.42" r="1.55" fill="#4b4b4b"/>
<circle cx="365.82" cy="310.09" r="1.55" fill="#4b4b4b"/>
<circle cx="365.78" cy="308.03" r="1.55" fill="#4b4b4b"/>
<circle cx="366.05" cy="305.34" r="1.55" fill="#4b4b4b"/>
<circle cx="366.62" cy="303.10" r="1.55" fill="#4b4b4b"/>
<circle cx="366.04" cy="301.47" r="1.55" fill="#4b4b4b"/>
<circle cx="366.24" cy="299.09" r="1.55" fill="#4b4b4b"/>
<circle cx="366.00" cy="296.51" r="1.55" fill="#4b4b4b"/>
<circle cx="365.28" cy="293.88" r="1.55" fill="#4b4b4b"/>
<circle cx="365.54" cy="290.92" r="1.55" fill="#4b4b4b"/>
<circle cx="365.99" cy="288.96" r="1.55" fill="#4b4b4b"/>
<g fill="#ac4793"><circle cx="355.4" cy="278.0" r="1.85"/><circle cx="360.9" cy="281.7" r="1.85"/><circle cx="348.0" cy="284.9" r="1.85"/><circle cx="355.9" cy="277.9" r="1.85"/><circle cx="361.1" cy="283.7" r="1.85"/><circle cx="347.7" cy="265.7" r="1.85"/><circle cx="360.1" cy="272.7" r="1.85"/><circle cx="361.0" cy="265.7" r="1.85"/><circle cx="360.2" cy="266.0" r="1.85"/><circle cx="340.7" cy="275.6" r="1.85"/><circle cx="363.7" cy="256.7" r="1.85"/><circle cx="365.5" cy="271.5" r="1.85"/><circle cx="363.0" cy="285.1" r="1.85"/><circle cx="353.9" cy="266.6" r="1.85"/><circle cx="350.9" cy="262.5" r="1.85"/><circle cx="356.7" cy="284.9" r="1.85"/><circle cx="354.1" cy="278.2" r="1.85"/><circle cx="364.9" cy="280.6" r="1.85"/><circle cx="358.8" cy="271.5" r="1.85"/><circle cx="363.9" cy="268.1" r="1.85"/><circle cx="359.1" cy="262.3" r="1.85"/><circle cx="356.3" cy="261.0" r="1.85"/><circle cx="362.0" cy="280.0" r="1.85"/><circle cx="340.5" cy="275.3" r="1.85"/><circle cx="342.6" cy="284.4" r="1.85"/><circle cx="365.0" cy="273.7" r="1.85"/><circle cx="363.2" cy="259.3" r="1.85"/><circle cx="361.1" cy="263.4" r="1.85"/><circle cx="352.4" cy="266.7" r="1.85"/><circle cx="354.6" cy="273.8" r="1.85"/><circle cx="355.1" cy="259.4" r="1.85"/><circle cx="357.0" cy="263.3" r="1.85"/><circle cx="365.2" cy="257.1" r="1.85"/><circle cx="361.7" cy="256.7" r="1.85"/><circle cx="355.8" cy="265.2" r="1.85"/><circle cx="352.9" cy="276.0" r="1.85"/><circle cx="364.8" cy="274.9" r="1.85"/><circle cx="342.9" cy="276.3" r="1.85"/><circle cx="362.7" cy="265.9" r="1.85"/><circle cx="364.6" cy="259.2" r="1.85"/><circle cx="352.8" cy="261.8" r="1.85"/><circle cx="363.1" cy="263.8" r="1.85"/><circle cx="347.0" cy="286.0" r="1.85"/><circle cx="351.5" cy="268.9" r="1.85"/><circle cx="359.6" cy="259.7" r="1.85"/></g>
<path d="M343.00,285.00 L342.50,278.00 L345.00,271.00 L350.00,267.00 L354.00,263.00 L360.00,261.00 L364.00,258.00 L367.00,259.00 L367.50,285.00Z" fill="#ac4793" stroke="none" stroke-width="1" />
<circle cx="343.06" cy="285.30" r="1.55" fill="#ac4793"/>
<circle cx="343.13" cy="283.10" r="1.55" fill="#ac4793"/>
<circle cx="342.41" cy="280.89" r="1.55" fill="#ac4793"/>
<circle cx="342.58" cy="278.30" r="1.55" fill="#ac4793"/>
<circle cx="343.64" cy="276.18" r="1.55" fill="#ac4793"/>
<circle cx="343.90" cy="273.17" r="1.55" fill="#ac4793"/>
<circle cx="345.26" cy="271.10" r="1.55" fill="#ac4793"/>
<circle cx="347.80" cy="268.84" r="1.55" fill="#ac4793"/>
<circle cx="350.55" cy="266.41" r="1.55" fill="#ac4793"/>
<circle cx="352.27" cy="264.85" r="1.55" fill="#ac4793"/>
<circle cx="353.43" cy="263.21" r="1.55" fill="#ac4793"/>
<circle cx="356.46" cy="261.68" r="1.55" fill="#ac4793"/>
<circle cx="359.79" cy="260.59" r="1.55" fill="#ac4793"/>
<circle cx="361.60" cy="258.99" r="1.55" fill="#ac4793"/>
<circle cx="364.42" cy="257.50" r="1.55" fill="#ac4793"/>
<circle cx="366.59" cy="258.49" r="1.55" fill="#ac4793"/>
<circle cx="367.54" cy="261.42" r="1.55" fill="#ac4793"/>
<circle cx="367.48" cy="264.29" r="1.55" fill="#ac4793"/>
<circle cx="367.13" cy="265.96" r="1.55" fill="#ac4793"/>
<circle cx="367.05" cy="268.17" r="1.55" fill="#ac4793"/>
<circle cx="367.34" cy="271.38" r="1.55" fill="#ac4793"/>
<circle cx="367.28" cy="273.49" r="1.55" fill="#ac4793"/>
<circle cx="367.78" cy="275.94" r="1.55" fill="#ac4793"/>
<circle cx="367.57" cy="277.97" r="1.55" fill="#ac4793"/>
<circle cx="366.93" cy="280.13" r="1.55" fill="#ac4793"/>
<circle cx="367.88" cy="282.57" r="1.55" fill="#ac4793"/>
<circle cx="367.72" cy="284.71" r="1.55" fill="#ac4793"/>
<circle cx="365.37" cy="284.66" r="1.55" fill="#ac4793"/>
<circle cx="363.39" cy="285.38" r="1.55" fill="#ac4793"/>
<circle cx="360.24" cy="285.20" r="1.55" fill="#ac4793"/>
<circle cx="358.10" cy="285.54" r="1.55" fill="#ac4793"/>
<circle cx="355.97" cy="284.55" r="1.55" fill="#ac4793"/>
<circle cx="354.61" cy="285.14" r="1.55" fill="#ac4793"/>
<circle cx="351.32" cy="284.96" r="1.55" fill="#ac4793"/>
<circle cx="350.08" cy="284.60" r="1.55" fill="#ac4793"/>
<circle cx="347.76" cy="284.75" r="1.55" fill="#ac4793"/>
<circle cx="345.16" cy="284.87" r="1.55" fill="#ac4793"/>
<circle cx="318.90" cy="205.90" r="1.9" fill="#ac4793"/>
<circle cx="334.90" cy="207.30" r="1.9" fill="#ac4793"/>
<circle cx="341.30" cy="198.00" r="1.9" fill="#ac4793"/>
<circle cx="353.50" cy="198.40" r="1.9" fill="#ac4793"/>
<circle cx="358.40" cy="200.00" r="1.9" fill="#ac4793"/>
<circle cx="344.90" cy="208.90" r="1.9" fill="#ac4793"/>
<circle cx="349.90" cy="213.90" r="1.9" fill="#ac4793"/>
<circle cx="355.40" cy="224.30" r="1.9" fill="#ac4793"/>
<circle cx="365.80" cy="225.90" r="1.9" fill="#ac4793"/>
<circle cx="348.90" cy="232.90" r="1.9" fill="#ac4793"/>
<circle cx="357.80" cy="234.90" r="1.9" fill="#ac4793"/>
<circle cx="362.20" cy="233.30" r="1.9" fill="#ac4793"/>
<circle cx="350.90" cy="238.80" r="1.9" fill="#ac4793"/>
<circle cx="347.90" cy="244.80" r="1.9" fill="#ac4793"/>
<circle cx="353.50" cy="244.80" r="1.9" fill="#ac4793"/>
<circle cx="358.80" cy="243.80" r="1.9" fill="#ac4793"/>
<circle cx="362.80" cy="246.00" r="1.9" fill="#ac4793"/>
<circle cx="349.90" cy="249.80" r="1.9" fill="#ac4793"/>
<circle cx="357.80" cy="249.00" r="1.9" fill="#ac4793"/>
<circle cx="348.90" cy="255.80" r="1.9" fill="#ac4793"/>
<circle cx="363.80" cy="253.80" r="1.9" fill="#ac4793"/>
<circle cx="346.90" cy="261.80" r="1.9" fill="#ac4793"/>
<circle cx="327.90" cy="280.30" r="1.9" fill="#ac4793"/>
<circle cx="340.90" cy="277.70" r="1.9" fill="#ac4793"/>
<circle cx="355.00" cy="254.00" r="1.9" fill="#ac4793"/>
<circle cx="360.00" cy="256.00" r="1.9" fill="#ac4793"/>
<circle cx="352.00" cy="259.00" r="1.9" fill="#ac4793"/>
<circle cx="358.00" cy="258.00" r="1.9" fill="#ac4793"/>
<circle cx="345.00" cy="266.00" r="1.9" fill="#ac4793"/>
<circle cx="343.00" cy="272.00" r="1.9" fill="#ac4793"/>
<g fill="#fbe717"><circle cx="390.9" cy="284.9" r="1.8"/><circle cx="408.8" cy="280.9" r="1.8"/><circle cx="404.0" cy="278.1" r="1.8"/><circle cx="381.5" cy="262.5" r="1.8"/><circle cx="388.6" cy="269.0" r="1.8"/><circle cx="393.8" cy="258.3" r="1.8"/><circle cx="397.0" cy="259.3" r="1.8"/><circle cx="391.3" cy="273.8" r="1.8"/><circle cx="385.0" cy="254.3" r="1.8"/><circle cx="403.3" cy="256.0" r="1.8"/><circle cx="386.8" cy="267.4" r="1.8"/><circle cx="390.7" cy="278.8" r="1.8"/><circle cx="386.3" cy="260.4" r="1.8"/><circle cx="392.5" cy="285.1" r="1.8"/><circle cx="385.5" cy="278.4" r="1.8"/><circle cx="393.4" cy="246.4" r="1.8"/><circle cx="387.4" cy="254.2" r="1.8"/><circle cx="388.2" cy="255.0" r="1.8"/><circle cx="400.0" cy="241.6" r="1.8"/><circle cx="388.2" cy="235.8" r="1.8"/><circle cx="388.3" cy="246.6" r="1.8"/><circle cx="399.3" cy="244.9" r="1.8"/><circle cx="386.3" cy="258.5" r="1.8"/><circle cx="402.3" cy="228.4" r="1.8"/><circle cx="400.0" cy="236.2" r="1.8"/><circle cx="401.2" cy="245.4" r="1.8"/><circle cx="385.7" cy="231.8" r="1.8"/><circle cx="404.1" cy="257.0" r="1.8"/><circle cx="383.9" cy="280.0" r="1.8"/><circle cx="389.4" cy="240.6" r="1.8"/><circle cx="381.6" cy="241.9" r="1.8"/><circle cx="397.5" cy="279.6" r="1.8"/><circle cx="390.0" cy="254.4" r="1.8"/><circle cx="383.8" cy="266.3" r="1.8"/><circle cx="390.1" cy="246.7" r="1.8"/><circle cx="389.2" cy="274.6" r="1.8"/><circle cx="394.4" cy="229.7" r="1.8"/><circle cx="402.9" cy="280.2" r="1.8"/><circle cx="385.1" cy="266.0" r="1.8"/><circle cx="390.2" cy="251.4" r="1.8"/><circle cx="397.8" cy="247.2" r="1.8"/><circle cx="400.1" cy="243.6" r="1.8"/><circle cx="395.6" cy="245.5" r="1.8"/><circle cx="393.6" cy="232.0" r="1.8"/><circle cx="391.7" cy="230.0" r="1.8"/><circle cx="399.2" cy="249.3" r="1.8"/><circle cx="393.4" cy="279.5" r="1.8"/><circle cx="386.0" cy="256.3" r="1.8"/><circle cx="398.9" cy="262.8" r="1.8"/><circle cx="403.2" cy="245.4" r="1.8"/><circle cx="383.6" cy="261.1" r="1.8"/><circle cx="396.2" cy="281.9" r="1.8"/><circle cx="402.2" cy="265.5" r="1.8"/><circle cx="400.8" cy="267.6" r="1.8"/><circle cx="394.2" cy="254.0" r="1.8"/><circle cx="396.6" cy="224.3" r="1.8"/><circle cx="396.0" cy="249.6" r="1.8"/><circle cx="393.7" cy="258.5" r="1.8"/><circle cx="400.1" cy="247.6" r="1.8"/><circle cx="397.9" cy="237.8" r="1.8"/><circle cx="401.4" cy="269.5" r="1.8"/><circle cx="392.3" cy="250.7" r="1.8"/><circle cx="392.8" cy="255.6" r="1.8"/><circle cx="399.4" cy="270.0" r="1.8"/><circle cx="401.2" cy="248.6" r="1.8"/><circle cx="405.7" cy="274.1" r="1.8"/><circle cx="398.0" cy="234.0" r="1.8"/><circle cx="406.1" cy="282.5" r="1.8"/><circle cx="400.5" cy="243.3" r="1.8"/><circle cx="401.3" cy="235.0" r="1.8"/><circle cx="384.6" cy="275.6" r="1.8"/><circle cx="383.9" cy="241.8" r="1.8"/><circle cx="402.9" cy="242.8" r="1.8"/><circle cx="381.7" cy="247.8" r="1.8"/><circle cx="393.6" cy="232.6" r="1.8"/></g>
<path d="M382.50,285.50 L382.50,250.00 L386.00,245.00 L398.00,244.00 L401.00,250.00 L401.00,262.00 L404.00,272.00 L407.00,283.00 L398.00,285.50Z" fill="#fbe717" stroke="none" stroke-width="1" />
<circle cx="382.29" cy="286.08" r="1.55" fill="#fbe717"/>
<circle cx="383.05" cy="283.78" r="1.55" fill="#fbe717"/>
<circle cx="382.85" cy="281.51" r="1.55" fill="#fbe717"/>
<circle cx="381.90" cy="279.00" r="1.55" fill="#fbe717"/>
<circle cx="382.20" cy="276.90" r="1.55" fill="#fbe717"/>
<circle cx="382.42" cy="274.48" r="1.55" fill="#fbe717"/>
<circle cx="382.55" cy="272.28" r="1.55" fill="#fbe717"/>
<circle cx="382.89" cy="270.55" r="1.55" fill="#fbe717"/>
<circle cx="382.31" cy="268.12" r="1.55" fill="#fbe717"/>
<circle cx="382.97" cy="265.40" r="1.55" fill="#fbe717"/>
<circle cx="382.05" cy="263.31" r="1.55" fill="#fbe717"/>
<circle cx="382.82" cy="261.12" r="1.55" fill="#fbe717"/>
<circle cx="382.12" cy="259.12" r="1.55" fill="#fbe717"/>
<circle cx="382.29" cy="257.12" r="1.55" fill="#fbe717"/>
<circle cx="382.10" cy="254.55" r="1.55" fill="#fbe717"/>
<circle cx="382.36" cy="252.80" r="1.55" fill="#fbe717"/>
<circle cx="382.07" cy="250.46" r="1.55" fill="#fbe717"/>
<circle cx="384.15" cy="247.35" r="1.55" fill="#fbe717"/>
<circle cx="385.65" cy="244.99" r="1.55" fill="#fbe717"/>
<circle cx="388.92" cy="245.40" r="1.55" fill="#fbe717"/>
<circle cx="391.33" cy="244.73" r="1.55" fill="#fbe717"/>
<circle cx="392.88" cy="244.41" r="1.55" fill="#fbe717"/>
<circle cx="395.78" cy="243.96" r="1.55" fill="#fbe717"/>
<circle cx="398.58" cy="243.50" r="1.55" fill="#fbe717"/>
<circle cx="398.68" cy="245.64" r="1.55" fill="#fbe717"/>
<circle cx="399.60" cy="247.48" r="1.55" fill="#fbe717"/>
<circle cx="400.69" cy="249.85" r="1.55" fill="#fbe717"/>
<circle cx="401.53" cy="252.45" r="1.55" fill="#fbe717"/>
<circle cx="401.15" cy="254.62" r="1.55" fill="#fbe717"/>
<circle cx="400.60" cy="257.28" r="1.55" fill="#fbe717"/>
<circle cx="401.27" cy="259.10" r="1.55" fill="#fbe717"/>
<circle cx="401.18" cy="261.65" r="1.55" fill="#fbe717"/>
<circle cx="401.98" cy="264.33" r="1.55" fill="#fbe717"/>
<circle cx="402.08" cy="266.57" r="1.55" fill="#fbe717"/>
<circle cx="403.60" cy="269.55" r="1.55" fill="#fbe717"/>
<circle cx="403.50" cy="272.49" r="1.55" fill="#fbe717"/>
<circle cx="404.33" cy="273.94" r="1.55" fill="#fbe717"/>
<circle cx="404.60" cy="276.16" r="1.55" fill="#fbe717"/>
<circle cx="405.87" cy="279.08" r="1.55" fill="#fbe717"/>
<circle cx="406.16" cy="280.80" r="1.55" fill="#fbe717"/>
<circle cx="406.50" cy="283.22" r="1.55" fill="#fbe717"/>
<circle cx="404.51" cy="283.48" r="1.55" fill="#fbe717"/>
<circle cx="402.22" cy="284.63" r="1.55" fill="#fbe717"/>
<circle cx="400.83" cy="284.44" r="1.55" fill="#fbe717"/>
<circle cx="397.94" cy="285.03" r="1.55" fill="#fbe717"/>
<circle cx="396.09" cy="285.99" r="1.55" fill="#fbe717"/>
<circle cx="393.12" cy="285.72" r="1.55" fill="#fbe717"/>
<circle cx="391.12" cy="285.44" r="1.55" fill="#fbe717"/>
<circle cx="389.23" cy="285.36" r="1.55" fill="#fbe717"/>
<circle cx="387.11" cy="285.29" r="1.55" fill="#fbe717"/>
<circle cx="384.71" cy="285.33" r="1.55" fill="#fbe717"/>
<circle cx="399.20" cy="216.90" r="1.8" fill="#fbe717"/>
<circle cx="386.70" cy="225.00" r="1.8" fill="#fbe717"/>
<circle cx="404.60" cy="224.20" r="1.8" fill="#fbe717"/>
<circle cx="412.70" cy="230.40" r="1.8" fill="#fbe717"/>
<circle cx="415.60" cy="244.20" r="1.8" fill="#fbe717"/>
<circle cx="412.70" cy="250.60" r="1.8" fill="#fbe717"/>
<circle cx="410.80" cy="253.50" r="1.8" fill="#fbe717"/>
<circle cx="409.80" cy="280.40" r="1.8" fill="#fbe717"/>
<circle cx="410.80" cy="284.20" r="1.8" fill="#fbe717"/>
<circle cx="423.80" cy="282.90" r="1.8" fill="#fbe717"/>
<circle cx="407.00" cy="236.00" r="1.8" fill="#fbe717"/>
<circle cx="405.00" cy="262.00" r="1.8" fill="#fbe717"/>
<circle cx="407.00" cy="270.00" r="1.8" fill="#fbe717"/>
<text x="334.30" y="204.50" font-size="8.2" fill="#231f20" textLength="17.60" lengthAdjust="spacingAndGlyphs" >Dok3</text>
<text x="307.60" y="212.90" font-size="8.2" fill="#231f20" textLength="22.30" lengthAdjust="spacingAndGlyphs" >Agap2</text>
<text x="335.90" y="220.50" font-size="8.2" fill="#231f20" textLength="27.50" lengthAdjust="spacingAndGlyphs" >Mapk12</text>
<text x="309.60" y="277.70" font-size="8.2" fill="#231f20" textLength="26.70" lengthAdjust="spacingAndGlyphs" >Prpf38b</text>
<text x="388.10" y="213.50" font-size="8.2" fill="#231f20" textLength="30.90" lengthAdjust="spacingAndGlyphs" >Fam134a</text>
<text x="384.80" y="233.30" font-size="8.2" fill="#231f20" textLength="27.90" lengthAdjust="spacingAndGlyphs" >Ankrd17</text>
<text x="386.20" y="243.80" font-size="8.2" fill="#231f20" textLength="11.10" lengthAdjust="spacingAndGlyphs" >Lyn</text>
<text x="405.00" y="263.10" font-size="8.2" fill="#231f20" textLength="23.10" lengthAdjust="spacingAndGlyphs" >Map1a</text>
<text x="387.30" y="269.80" font-size="8.2" fill="#231f20" textLength="16.70" lengthAdjust="spacingAndGlyphs" font-weight="bold" >Hes1</text>
<text x="387.30" y="278.10" font-size="8.2" fill="#231f20" textLength="21.50" lengthAdjust="spacingAndGlyphs" >Nfatc1</text>
<text x="7.60" y="364.90" font-size="11.2" fill="#000" font-weight="bold" stroke="#000" stroke-width="0.3">D</text>
<line x1="68.30" y1="357.30" x2="68.30" y2="537.80" stroke="#231f20" stroke-width="1.1" />
<line x1="67.80" y1="537.30" x2="512.70" y2="537.30" stroke="#231f20" stroke-width="1.1" />
<line x1="68.30" y1="466.40" x2="512.70" y2="466.40" stroke="#333" stroke-width="0.9" />
<line x1="64.80" y1="359.75" x2="68.30" y2="359.75" stroke="#231f20" stroke-width="1" />
<text x="62.30" y="362.65" font-size="8.2" fill="#231f20" text-anchor="end" textLength="9.20" lengthAdjust="spacingAndGlyphs" >30</text>
<line x1="64.80" y1="395.30" x2="68.30" y2="395.30" stroke="#231f20" stroke-width="1" />
<text x="62.30" y="398.20" font-size="8.2" fill="#231f20" text-anchor="end" textLength="9.20" lengthAdjust="spacingAndGlyphs" >20</text>
<line x1="64.80" y1="430.85" x2="68.30" y2="430.85" stroke="#231f20" stroke-width="1" />
<text x="62.30" y="433.75" font-size="8.2" fill="#231f20" text-anchor="end" textLength="9.20" lengthAdjust="spacingAndGlyphs" >10</text>
<line x1="64.80" y1="466.40" x2="68.30" y2="466.40" stroke="#231f20" stroke-width="1" />
<text x="62.30" y="469.30" font-size="8.2" fill="#231f20" text-anchor="end" textLength="4.60" lengthAdjust="spacingAndGlyphs" >0</text>
<line x1="64.80" y1="501.95" x2="68.30" y2="501.95" stroke="#231f20" stroke-width="1" />
<text x="62.30" y="504.85" font-size="8.2" fill="#231f20" text-anchor="end" textLength="12.50" lengthAdjust="spacingAndGlyphs" >-10</text>
<line x1="64.80" y1="537.50" x2="68.30" y2="537.50" stroke="#231f20" stroke-width="1" />
<text x="62.30" y="540.40" font-size="8.2" fill="#231f20" text-anchor="end" textLength="12.50" lengthAdjust="spacingAndGlyphs" >-20</text>
<rect x="72.60" y="466.40" width="4.4" height="46.22" fill="#ac4793"/>
<line x1="74.80" y1="537.30" x2="74.80" y2="541.30" stroke="#231f20" stroke-width="1" />
<text x="77.20" y="546.60" font-size="7.6" fill="#231f20" text-anchor="end" textLength="19.75" lengthAdjust="spacingAndGlyphs" transform="rotate(-45 77.20 546.60)" >Pdpk1</text>
<rect x="82.32" y="466.40" width="4.4" height="23.82" fill="#ac4793"/>
<line x1="84.52" y1="537.30" x2="84.52" y2="541.30" stroke="#231f20" stroke-width="1" />
<text x="86.96" y="546.60" font-size="7.6" fill="#231f20" text-anchor="end" textLength="23.70" lengthAdjust="spacingAndGlyphs" transform="rotate(-45 86.96 546.60)" >Camk2d</text>
<rect x="92.05" y="466.40" width="4.4" height="20.62" fill="#ac4793"/>
<line x1="94.25" y1="537.30" x2="94.25" y2="541.30" stroke="#231f20" stroke-width="1" />
<text x="96.71" y="546.60" font-size="7.6" fill="#231f20" text-anchor="end" textLength="27.65" lengthAdjust="spacingAndGlyphs" transform="rotate(-45 96.71 546.60)" >Eif2ak3</text>
<rect x="101.77" y="466.40" width="4.4" height="18.84" fill="#ac4793"/>
<line x1="103.97" y1="537.30" x2="103.97" y2="541.30" stroke="#231f20" stroke-width="1" />
<text x="106.47" y="546.60" font-size="7.6" fill="#231f20" text-anchor="end" textLength="23.70" lengthAdjust="spacingAndGlyphs" transform="rotate(-45 106.47 546.60)" >Map3k5</text>
<rect x="111.49" y="466.40" width="4.4" height="11.38" fill="#ac4793"/>
<line x1="113.69" y1="537.30" x2="113.69" y2="541.30" stroke="#231f20" stroke-width="1" />
<text x="116.23" y="546.60" font-size="7.6" fill="#231f20" text-anchor="end" textLength="15.80" lengthAdjust="spacingAndGlyphs" transform="rotate(-45 116.23 546.60)" >Mtor</text>
<rect x="121.21" y="466.40" width="4.4" height="9.24" fill="#ac4793"/>
<line x1="123.41" y1="537.30" x2="123.41" y2="541.30" stroke="#231f20" stroke-width="1" />
<text x="125.98" y="546.60" font-size="7.6" fill="#231f20" text-anchor="end" textLength="11.85" lengthAdjust="spacingAndGlyphs" transform="rotate(-45 125.98 546.60)" >Syk</text>
<rect x="130.94" y="466.40" width="4.4" height="5.87" fill="#ac4793"/>
<line x1="133.14" y1="537.30" x2="133.14" y2="541.30" stroke="#231f20" stroke-width="1" />
<text x="135.74" y="546.60" font-size="7.6" fill="#231f20" text-anchor="end" textLength="11.85" lengthAdjust="spacingAndGlyphs" transform="rotate(-45 135.74 546.60)" >Btk</text>
<rect x="140.66" y="466.40" width="4.4" height="5.87" fill="#ac4793"/>
<line x1="142.86" y1="537.30" x2="142.86" y2="541.30" stroke="#231f20" stroke-width="1" />
<text x="145.50" y="546.60" font-size="7.6" fill="#231f20" text-anchor="end" textLength="11.85" lengthAdjust="spacingAndGlyphs" transform="rotate(-45 145.50 546.60)" >Slk</text>
<rect x="150.38" y="466.40" width="4.4" height="5.15" fill="#ac4793"/>
<line x1="152.58" y1="537.30" x2="152.58" y2="541.30" stroke="#231f20" stroke-width="1" />
<text x="155.25" y="546.60" font-size="7.6" fill="#231f20" text-anchor="end" textLength="23.70" lengthAdjust="spacingAndGlyphs" transform="rotate(-45 155.25 546.60)" >Mapk12</text>
<rect x="160.10" y="466.40" width="4.4" height="4.91" fill="#ac4793"/>
<line x1="162.30" y1="537.30" x2="162.30" y2="541.30" stroke="#231f20" stroke-width="1" />
<text x="165.01" y="546.60" font-size="7.6" fill="#231f20" text-anchor="end" textLength="19.75" lengthAdjust="spacingAndGlyphs" transform="rotate(-45 165.01 546.60)" >Stk39</text>
<rect x="169.83" y="466.40" width="4.4" height="3.73" fill="#ac4793"/>
<line x1="172.03" y1="537.30" x2="172.03" y2="541.30" stroke="#231f20" stroke-width="1" />
<text x="174.77" y="546.60" font-size="7.6" fill="#231f20" text-anchor="end" textLength="23.70" lengthAdjust="spacingAndGlyphs" transform="rotate(-45 174.77 546.60)" >Adrbk1</text>
<rect x="179.55" y="466.40" width="4.4" height="3.02" fill="#ac4793"/>
<line x1="181.75" y1="537.30" x2="181.75" y2="541.30" stroke="#231f20" stroke-width="1" />
<text x="184.53" y="546.60" font-size="7.6" fill="#231f20" text-anchor="end" textLength="15.80" lengthAdjust="spacingAndGlyphs" transform="rotate(-45 184.53 546.60)" >Melk</text>
<rect x="189.27" y="466.40" width="4.4" height="2.31" fill="#ac4793"/>
<line x1="191.47" y1="537.30" x2="191.47" y2="541.30" stroke="#231f20" stroke-width="1" />
<text x="194.28" y="546.60" font-size="7.6" fill="#231f20" text-anchor="end" textLength="19.75" lengthAdjust="spacingAndGlyphs" transform="rotate(-45 194.28 546.60)" >Stk10</text>
<rect x="199.00" y="466.40" width="4.4" height="1.78" fill="#ac4793"/>
<line x1="201.20" y1="537.30" x2="201.20" y2="541.30" stroke="#231f20" stroke-width="1" />
<text x="204.04" y="546.60" font-size="7.6" fill="#231f20" text-anchor="end" textLength="15.80" lengthAdjust="spacingAndGlyphs" transform="rotate(-45 204.04 546.60)" >Pak4</text>
<rect x="208.72" y="466.40" width="4.4" height="1.35" fill="#ac4793"/>
<line x1="210.92" y1="537.30" x2="210.92" y2="541.30" stroke="#231f20" stroke-width="1" />
<text x="213.80" y="546.60" font-size="7.6" fill="#231f20" text-anchor="end" textLength="15.80" lengthAdjust="spacingAndGlyphs" transform="rotate(-45 213.80 546.60)" >Ulk1</text>
<rect x="218.44" y="466.40" width="4.4" height="1.24" fill="#ac4793"/>
<line x1="220.64" y1="537.30" x2="220.64" y2="541.30" stroke="#231f20" stroke-width="1" />
<text x="223.55" y="546.60" font-size="7.6" fill="#231f20" text-anchor="end" textLength="15.80" lengthAdjust="spacingAndGlyphs" transform="rotate(-45 223.55 546.60)" >Pak1</text>
<rect x="228.16" y="466.40" width="4.4" height="1.17" fill="#ac4793"/>
<line x1="230.36" y1="537.30" x2="230.36" y2="541.30" stroke="#231f20" stroke-width="1" />
<text x="233.31" y="546.60" font-size="7.6" fill="#231f20" text-anchor="end" textLength="27.65" lengthAdjust="spacingAndGlyphs" transform="rotate(-45 233.31 546.60)" >Rps6kb2</text>
<rect x="237.89" y="466.40" width="4.4" height="0.43" fill="#ac4793"/>
<line x1="240.09" y1="537.30" x2="240.09" y2="541.30" stroke="#231f20" stroke-width="1" />
<text x="243.07" y="546.60" font-size="7.6" fill="#231f20" text-anchor="end" textLength="15.80" lengthAdjust="spacingAndGlyphs" transform="rotate(-45 243.07 546.60)" >Pak2</text>
<rect x="247.61" y="466.40" width="4.4" height="0.28" fill="#ac4793"/>
<line x1="249.81" y1="537.30" x2="249.81" y2="541.30" stroke="#231f20" stroke-width="1" />
<text x="252.82" y="546.60" font-size="7.6" fill="#231f20" text-anchor="end" textLength="15.80" lengthAdjust="spacingAndGlyphs" transform="rotate(-45 252.82 546.60)" >Abl2</text>
<rect x="257.33" y="466.40" width="4.4" height="0.18" fill="#ac4793"/>
<line x1="259.53" y1="537.30" x2="259.53" y2="541.30" stroke="#231f20" stroke-width="1" />
<text x="262.58" y="546.60" font-size="7.6" fill="#231f20" text-anchor="end" textLength="19.75" lengthAdjust="spacingAndGlyphs" transform="rotate(-45 262.58 546.60)" >Prkcd</text>
<rect x="267.05" y="466.29" width="4.4" height="0.11" fill="#fbe717"/>
<line x1="269.25" y1="537.30" x2="269.25" y2="541.30" stroke="#231f20" stroke-width="1" />
<text x="272.34" y="546.60" font-size="7.6" fill="#231f20" text-anchor="end" textLength="27.65" lengthAdjust="spacingAndGlyphs" transform="rotate(-45 272.34 546.60)" >Eif2ak2</text>
<rect x="276.78" y="466.22" width="4.4" height="0.18" fill="#fbe717"/>
<line x1="278.98" y1="537.30" x2="278.98" y2="541.30" stroke="#231f20" stroke-width="1" />
<text x="282.09" y="546.60" font-size="7.6" fill="#231f20" text-anchor="end" textLength="11.85" lengthAdjust="spacingAndGlyphs" transform="rotate(-45 282.09 546.60)" >Hck</text>
<rect x="286.50" y="466.12" width="4.4" height="0.28" fill="#fbe717"/>
<line x1="288.70" y1="537.30" x2="288.70" y2="541.30" stroke="#231f20" stroke-width="1" />
<text x="291.85" y="546.60" font-size="7.6" fill="#231f20" text-anchor="end" textLength="19.75" lengthAdjust="spacingAndGlyphs" transform="rotate(-45 291.85 546.60)" >Prkce</text>
<rect x="296.22" y="466.04" width="4.4" height="0.36" fill="#fbe717"/>
<line x1="298.42" y1="537.30" x2="298.42" y2="541.30" stroke="#231f20" stroke-width="1" />
<text x="301.61" y="546.60" font-size="7.6" fill="#231f20" text-anchor="end" textLength="31.60" lengthAdjust="spacingAndGlyphs" transform="rotate(-45 301.61 546.60)" >Mapkapk2</text>
<rect x="305.95" y="465.87" width="4.4" height="0.53" fill="#fbe717"/>
<line x1="308.15" y1="537.30" x2="308.15" y2="541.30" stroke="#231f20" stroke-width="1" />
<text x="311.36" y="546.60" font-size="7.6" fill="#231f20" text-anchor="end" textLength="19.75" lengthAdjust="spacingAndGlyphs" transform="rotate(-45 311.36 546.60)" >Ripk1</text>
<rect x="315.67" y="465.69" width="4.4" height="0.71" fill="#fbe717"/>
<line x1="317.87" y1="537.30" x2="317.87" y2="541.30" stroke="#231f20" stroke-width="1" />
<text x="321.12" y="546.60" font-size="7.6" fill="#231f20" text-anchor="end" textLength="19.75" lengthAdjust="spacingAndGlyphs" transform="rotate(-45 321.12 546.60)" >Prkcb</text>
<rect x="325.39" y="465.33" width="4.4" height="1.07" fill="#fbe717"/>
<line x1="327.59" y1="537.30" x2="327.59" y2="541.30" stroke="#231f20" stroke-width="1" />
<text x="330.88" y="546.60" font-size="7.6" fill="#231f20" text-anchor="end" textLength="19.75" lengthAdjust="spacingAndGlyphs" transform="rotate(-45 330.88 546.60)" >Mark3</text>
<rect x="335.11" y="465.16" width="4.4" height="1.24" fill="#fbe717"/>
<line x1="337.31" y1="537.30" x2="337.31" y2="541.30" stroke="#231f20" stroke-width="1" />
<text x="340.63" y="546.60" font-size="7.6" fill="#231f20" text-anchor="end" textLength="15.80" lengthAdjust="spacingAndGlyphs" transform="rotate(-45 340.63 546.60)" >Wnk1</text>
<rect x="344.84" y="464.62" width="4.4" height="1.78" fill="#fbe717"/>
<line x1="347.04" y1="537.30" x2="347.04" y2="541.30" stroke="#231f20" stroke-width="1" />
<text x="350.39" y="546.60" font-size="7.6" fill="#231f20" text-anchor="end" textLength="15.80" lengthAdjust="spacingAndGlyphs" transform="rotate(-45 350.39 546.60)" >Cdk1</text>
<rect x="354.56" y="463.91" width="4.4" height="2.49" fill="#fbe717"/>
<line x1="356.76" y1="537.30" x2="356.76" y2="541.30" stroke="#231f20" stroke-width="1" />
<text x="360.15" y="546.60" font-size="7.6" fill="#231f20" text-anchor="end" textLength="11.85" lengthAdjust="spacingAndGlyphs" transform="rotate(-45 360.15 546.60)" >Fyn</text>
<rect x="364.28" y="463.56" width="4.4" height="2.84" fill="#fbe717"/>
<line x1="366.48" y1="537.30" x2="366.48" y2="541.30" stroke="#231f20" stroke-width="1" />
<text x="369.90" y="546.60" font-size="7.6" fill="#231f20" text-anchor="end" textLength="19.75" lengthAdjust="spacingAndGlyphs" transform="rotate(-45 369.90 546.60)" >Lats1</text>
<rect x="374.00" y="463.20" width="4.4" height="3.20" fill="#fbe717"/>
<line x1="376.20" y1="537.30" x2="376.20" y2="541.30" stroke="#231f20" stroke-width="1" />
<text x="379.66" y="546.60" font-size="7.6" fill="#231f20" text-anchor="end" textLength="19.75" lengthAdjust="spacingAndGlyphs" transform="rotate(-45 379.66 546.60)" >Trpm7</text>
<rect x="383.73" y="462.49" width="4.4" height="3.91" fill="#fbe717"/>
<line x1="385.93" y1="537.30" x2="385.93" y2="541.30" stroke="#231f20" stroke-width="1" />
<text x="389.42" y="546.60" font-size="7.6" fill="#231f20" text-anchor="end" textLength="19.75" lengthAdjust="spacingAndGlyphs" transform="rotate(-45 389.42 546.60)" >Prkca</text>
<rect x="393.45" y="461.78" width="4.4" height="4.62" fill="#fbe717"/>
<line x1="395.65" y1="537.30" x2="395.65" y2="541.30" stroke="#231f20" stroke-width="1" />
<text x="399.18" y="546.60" font-size="7.6" fill="#231f20" text-anchor="end" textLength="23.70" lengthAdjust="spacingAndGlyphs" transform="rotate(-45 399.18 546.60)" >Map3k1</text>
<rect x="403.17" y="461.07" width="4.4" height="5.33" fill="#fbe717"/>
<line x1="405.37" y1="537.30" x2="405.37" y2="541.30" stroke="#231f20" stroke-width="1" />
<text x="408.93" y="546.60" font-size="7.6" fill="#231f20" text-anchor="end" textLength="15.80" lengthAdjust="spacingAndGlyphs" transform="rotate(-45 408.93 546.60)" >Cdk4</text>
<rect x="412.90" y="460.71" width="4.4" height="5.69" fill="#fbe717"/>
<line x1="415.10" y1="537.30" x2="415.10" y2="541.30" stroke="#231f20" stroke-width="1" />
<text x="418.69" y="546.60" font-size="7.6" fill="#231f20" text-anchor="end" textLength="15.80" lengthAdjust="spacingAndGlyphs" transform="rotate(-45 418.69 546.60)" >Grk6</text>
<rect x="422.62" y="460.36" width="4.4" height="6.04" fill="#fbe717"/>
<line x1="424.82" y1="537.30" x2="424.82" y2="541.30" stroke="#231f20" stroke-width="1" />
<text x="428.45" y="546.60" font-size="7.6" fill="#231f20" text-anchor="end" textLength="11.85" lengthAdjust="spacingAndGlyphs" transform="rotate(-45 428.45 546.60)" >Atr</text>
<rect x="432.34" y="459.29" width="4.4" height="7.11" fill="#fbe717"/>
<line x1="434.54" y1="537.30" x2="434.54" y2="541.30" stroke="#231f20" stroke-width="1" />
<text x="438.20" y="546.60" font-size="7.6" fill="#231f20" text-anchor="end" textLength="15.80" lengthAdjust="spacingAndGlyphs" transform="rotate(-45 438.20 546.60)" >Stk4</text>
<rect x="442.06" y="456.80" width="4.4" height="9.60" fill="#fbe717"/>
<line x1="444.26" y1="537.30" x2="444.26" y2="541.30" stroke="#231f20" stroke-width="1" />
<text x="447.96" y="546.60" font-size="7.6" fill="#231f20" text-anchor="end" textLength="15.80" lengthAdjust="spacingAndGlyphs" transform="rotate(-45 447.96 546.60)" >Akt1</text>
<rect x="451.79" y="454.67" width="4.4" height="11.73" fill="#fbe717"/>
<line x1="453.99" y1="537.30" x2="453.99" y2="541.30" stroke="#231f20" stroke-width="1" />
<text x="457.72" y="546.60" font-size="7.6" fill="#231f20" text-anchor="end" textLength="19.75" lengthAdjust="spacingAndGlyphs" transform="rotate(-45 457.72 546.60)" >Rock1</text>
<rect x="461.51" y="451.82" width="4.4" height="14.58" fill="#fbe717"/>
<line x1="463.71" y1="537.30" x2="463.71" y2="541.30" stroke="#231f20" stroke-width="1" />
<text x="467.47" y="546.60" font-size="7.6" fill="#231f20" text-anchor="end" textLength="11.85" lengthAdjust="spacingAndGlyphs" transform="rotate(-45 467.47 546.60)" >Lyn</text>
<rect x="471.23" y="447.20" width="4.4" height="19.20" fill="#fbe717"/>
<line x1="473.43" y1="537.30" x2="473.43" y2="541.30" stroke="#231f20" stroke-width="1" />
<text x="477.23" y="546.60" font-size="7.6" fill="#231f20" text-anchor="end" textLength="11.85" lengthAdjust="spacingAndGlyphs" transform="rotate(-45 477.23 546.60)" >Atm</text>
<rect x="480.95" y="446.49" width="4.4" height="19.91" fill="#fbe717"/>
<line x1="483.15" y1="537.30" x2="483.15" y2="541.30" stroke="#231f20" stroke-width="1" />
<text x="486.99" y="546.60" font-size="7.6" fill="#231f20" text-anchor="end" textLength="15.80" lengthAdjust="spacingAndGlyphs" transform="rotate(-45 486.99 546.60)" >Wee1</text>
<rect x="490.68" y="433.69" width="4.4" height="32.71" fill="#fbe717"/>
<line x1="492.88" y1="537.30" x2="492.88" y2="541.30" stroke="#231f20" stroke-width="1" />
<text x="496.74" y="546.60" font-size="7.6" fill="#231f20" text-anchor="end" textLength="19.75" lengthAdjust="spacingAndGlyphs" transform="rotate(-45 496.74 546.60)" >Stk24</text>
<rect x="500.40" y="377.88" width="4.4" height="88.52" fill="#fbe717"/>
<line x1="502.60" y1="537.30" x2="502.60" y2="541.30" stroke="#231f20" stroke-width="1" />
<text x="506.50" y="546.60" font-size="7.6" fill="#231f20" text-anchor="end" textLength="23.70" lengthAdjust="spacingAndGlyphs" transform="rotate(-45 506.50 546.60)" >Csnk2b</text>
<text x="24.30" y="398.50" font-size="9.3" fill="#231f20" text-anchor="middle" textLength="45.60" lengthAdjust="spacingAndGlyphs" transform="rotate(-90 24.30 398.50)" >Upregulated</text>
<text x="24.30" y="495.40" font-size="9.3" fill="#231f20" text-anchor="middle" textLength="54.80" lengthAdjust="spacingAndGlyphs" transform="rotate(-90 24.30 495.40)" >Downregulated</text>
<line x1="31.00" y1="447.00" x2="31.00" y2="404.50" stroke="#000" stroke-width="1.25" />
<path d="M31.00,398.50 L34.40,405.50 L31.00,404.00 L27.60,405.50 Z" fill="#000" stroke="none" stroke-width="1" />
<line x1="31.00" y1="447.00" x2="31.00" y2="489.40" stroke="#000" stroke-width="1.25" />
<path d="M31.00,495.40 L27.60,488.40 L31.00,489.90 L34.40,488.40 Z" fill="#000" stroke="none" stroke-width="1" />
<text x="45.80" y="447.20" font-size="9.2" fill="#231f20" text-anchor="middle" textLength="114.50" lengthAdjust="spacingAndGlyphs" transform="rotate(-90 45.80 447.20)" >Normalised upstream kinase score</text>
<text x="7.60" y="594.90" font-size="11.4" fill="#000" font-weight="bold" stroke="#000" stroke-width="0.3">E</text>
<text x="244.50" y="579.80" font-size="8.6" fill="#4a78c2" textLength="30.50" lengthAdjust="spacingAndGlyphs" >Eμ-<tspan font-style="italic">TCL1</tspan></text>
<text x="289.50" y="579.80" font-size="8.6" fill="#c0322b" textLength="32.00" lengthAdjust="spacingAndGlyphs" >Eμ-<tspan font-style="italic">TCL1</tspan></text>
<text x="322.20" y="576.00" font-size="6" fill="#c0322b" textLength="15.30" lengthAdjust="spacingAndGlyphs" font-style="italic" >Akt-C</text>
<line x1="67.50" y1="606.30" x2="67.50" y2="691.00" stroke="#231f20" stroke-width="1.1" />
<line x1="67.00" y1="690.50" x2="122.50" y2="690.50" stroke="#231f20" stroke-width="1.1" />
<line x1="64.30" y1="690.50" x2="67.50" y2="690.50" stroke="#231f20" stroke-width="1" />
<text x="61.90" y="693.30" font-size="8" fill="#231f20" text-anchor="end" textLength="13.20" lengthAdjust="spacingAndGlyphs" >420</text>
<line x1="64.30" y1="669.83" x2="67.50" y2="669.83" stroke="#231f20" stroke-width="1" />
<text x="61.90" y="672.62" font-size="8" fill="#231f20" text-anchor="end" textLength="13.20" lengthAdjust="spacingAndGlyphs" >440</text>
<line x1="64.30" y1="649.15" x2="67.50" y2="649.15" stroke="#231f20" stroke-width="1" />
<text x="61.90" y="651.95" font-size="8" fill="#231f20" text-anchor="end" textLength="13.20" lengthAdjust="spacingAndGlyphs" >460</text>
<line x1="64.30" y1="628.47" x2="67.50" y2="628.47" stroke="#231f20" stroke-width="1" />
<text x="61.90" y="631.27" font-size="8" fill="#231f20" text-anchor="end" textLength="13.20" lengthAdjust="spacingAndGlyphs" >480</text>
<line x1="64.30" y1="607.80" x2="67.50" y2="607.80" stroke="#231f20" stroke-width="1" />
<text x="61.90" y="610.60" font-size="8" fill="#231f20" text-anchor="end" textLength="13.20" lengthAdjust="spacingAndGlyphs" >500</text>
<line x1="83.75" y1="690.50" x2="83.75" y2="693.50" stroke="#231f20" stroke-width="1" />
<line x1="107.50" y1="690.50" x2="107.50" y2="693.50" stroke="#231f20" stroke-width="1" />
<text x="95.40" y="595.20" font-size="9.4" fill="#231f20" text-anchor="middle" >Csnk2b</text>
<text x="77.50" y="610.50" font-size="7" fill="#231f20" textLength="36.25" lengthAdjust="spacingAndGlyphs" ><tspan font-style="italic">P</tspan> = 0.0268</text>
<path d="M83.75,636.25 L83.75,615.00 L107.50,615.00 L107.50,618.75" fill="none" stroke="#222" stroke-width="1" />
<circle cx="83.75" cy="639.50" r="1.25" fill="#3a6cc0"/>
<circle cx="83.75" cy="653.75" r="1.25" fill="#3a6cc0"/>
<circle cx="83.75" cy="655.50" r="1.25" fill="#3a6cc0"/>
<circle cx="83.75" cy="678.25" r="1.25" fill="#3a6cc0"/>
<circle cx="107.00" cy="621.25" r="1.25" fill="#b8221c"/>
<circle cx="104.50" cy="631.25" r="1.25" fill="#b8221c"/>
<circle cx="110.00" cy="632.50" r="1.25" fill="#b8221c"/>
<circle cx="107.00" cy="638.75" r="1.25" fill="#b8221c"/>
<line x1="76.25" y1="655.00" x2="91.25" y2="655.00" stroke="#111" stroke-width="1.3" />
<line x1="100.00" y1="631.75" x2="115.00" y2="631.75" stroke="#111" stroke-width="1.3" />
<line x1="147.00" y1="606.30" x2="147.00" y2="691.00" stroke="#231f20" stroke-width="1.1" />
<line x1="146.50" y1="690.50" x2="193.75" y2="690.50" stroke="#231f20" stroke-width="1.1" />
<line x1="143.80" y1="690.50" x2="147.00" y2="690.50" stroke="#231f20" stroke-width="1" />
<text x="141.40" y="693.30" font-size="8" fill="#231f20" text-anchor="end" textLength="8.80" lengthAdjust="spacingAndGlyphs" >70</text>
<line x1="143.80" y1="669.83" x2="147.00" y2="669.83" stroke="#231f20" stroke-width="1" />
<text x="141.40" y="672.62" font-size="8" fill="#231f20" text-anchor="end" textLength="8.80" lengthAdjust="spacingAndGlyphs" >75</text>
<line x1="143.80" y1="649.15" x2="147.00" y2="649.15" stroke="#231f20" stroke-width="1" />
<text x="141.40" y="651.95" font-size="8" fill="#231f20" text-anchor="end" textLength="8.80" lengthAdjust="spacingAndGlyphs" >80</text>
<line x1="143.80" y1="628.47" x2="147.00" y2="628.47" stroke="#231f20" stroke-width="1" />
<text x="141.40" y="631.27" font-size="8" fill="#231f20" text-anchor="end" textLength="8.80" lengthAdjust="spacingAndGlyphs" >85</text>
<line x1="143.80" y1="607.80" x2="147.00" y2="607.80" stroke="#231f20" stroke-width="1" />
<text x="141.40" y="610.60" font-size="8" fill="#231f20" text-anchor="end" textLength="8.80" lengthAdjust="spacingAndGlyphs" >90</text>
<line x1="162.50" y1="690.50" x2="162.50" y2="693.50" stroke="#231f20" stroke-width="1" />
<line x1="186.25" y1="690.50" x2="186.25" y2="693.50" stroke="#231f20" stroke-width="1" />
<text x="173.90" y="595.20" font-size="9.4" fill="#231f20" text-anchor="middle" >Wee1</text>
<text x="156.25" y="609.00" font-size="7" fill="#231f20" textLength="35.75" lengthAdjust="spacingAndGlyphs" ><tspan font-style="italic">P</tspan> = 0.0376</text>
<path d="M162.50,649.50 L162.50,612.50 L186.25,612.50 L186.25,616.25" fill="none" stroke="#222" stroke-width="1" />
<circle cx="162.50" cy="652.00" r="1.25" fill="#3a6cc0"/>
<circle cx="162.50" cy="659.50" r="1.25" fill="#3a6cc0"/>
<circle cx="162.50" cy="670.00" r="1.25" fill="#3a6cc0"/>
<circle cx="162.50" cy="675.00" r="1.25" fill="#3a6cc0"/>
<circle cx="186.25" cy="618.75" r="1.25" fill="#b8221c"/>
<circle cx="186.25" cy="640.75" r="1.25" fill="#b8221c"/>
<circle cx="186.25" cy="647.50" r="1.25" fill="#b8221c"/>
<circle cx="186.25" cy="653.75" r="1.25" fill="#b8221c"/>
<line x1="155.00" y1="665.00" x2="170.00" y2="665.00" stroke="#111" stroke-width="1.3" />
<line x1="178.75" y1="644.00" x2="193.75" y2="644.00" stroke="#111" stroke-width="1.3" />
<line x1="230.50" y1="606.30" x2="230.50" y2="691.00" stroke="#231f20" stroke-width="1.1" />
<line x1="230.00" y1="690.50" x2="285.75" y2="690.50" stroke="#231f20" stroke-width="1.1" />
<line x1="227.30" y1="690.50" x2="230.50" y2="690.50" stroke="#231f20" stroke-width="1" />
<text x="224.90" y="693.30" font-size="8" fill="#231f20" text-anchor="end" textLength="8.80" lengthAdjust="spacingAndGlyphs" >95</text>
<line x1="227.30" y1="669.83" x2="230.50" y2="669.83" stroke="#231f20" stroke-width="1" />
<text x="224.90" y="672.62" font-size="8" fill="#231f20" text-anchor="end" textLength="13.20" lengthAdjust="spacingAndGlyphs" >100</text>
<line x1="227.30" y1="649.15" x2="230.50" y2="649.15" stroke="#231f20" stroke-width="1" />
<text x="224.90" y="651.95" font-size="8" fill="#231f20" text-anchor="end" textLength="13.20" lengthAdjust="spacingAndGlyphs" >105</text>
<line x1="227.30" y1="628.47" x2="230.50" y2="628.47" stroke="#231f20" stroke-width="1" />
<text x="224.90" y="631.27" font-size="8" fill="#231f20" text-anchor="end" textLength="13.20" lengthAdjust="spacingAndGlyphs" >110</text>
<line x1="227.30" y1="607.80" x2="230.50" y2="607.80" stroke="#231f20" stroke-width="1" />
<text x="224.90" y="610.60" font-size="8" fill="#231f20" text-anchor="end" textLength="13.20" lengthAdjust="spacingAndGlyphs" >115</text>
<line x1="246.25" y1="690.50" x2="246.25" y2="693.50" stroke="#231f20" stroke-width="1" />
<line x1="269.50" y1="690.50" x2="269.50" y2="693.50" stroke="#231f20" stroke-width="1" />
<text x="258.50" y="595.20" font-size="9.4" fill="#231f20" text-anchor="middle" >Atm</text>
<text x="240.00" y="617.00" font-size="7" fill="#231f20" textLength="36.25" lengthAdjust="spacingAndGlyphs" ><tspan font-style="italic">P</tspan> = 0.0165</text>
<path d="M246.25,646.25 L246.25,621.25 L269.50,621.25 L269.50,625.00" fill="none" stroke="#222" stroke-width="1" />
<circle cx="246.25" cy="652.00" r="1.25" fill="#3a6cc0"/>
<circle cx="246.25" cy="658.00" r="1.25" fill="#3a6cc0"/>
<circle cx="246.25" cy="667.50" r="1.25" fill="#3a6cc0"/>
<circle cx="246.25" cy="675.50" r="1.25" fill="#3a6cc0"/>
<circle cx="270.00" cy="628.00" r="1.25" fill="#b8221c"/>
<circle cx="270.00" cy="636.25" r="1.25" fill="#b8221c"/>
<circle cx="272.50" cy="646.25" r="1.25" fill="#b8221c"/>
<circle cx="267.00" cy="648.75" r="1.25" fill="#b8221c"/>
<line x1="237.50" y1="662.50" x2="253.75" y2="662.50" stroke="#111" stroke-width="1.3" />
<line x1="261.75" y1="641.00" x2="278.00" y2="641.00" stroke="#111" stroke-width="1.3" />
<line x1="309.25" y1="606.30" x2="309.25" y2="691.00" stroke="#231f20" stroke-width="1.1" />
<line x1="308.75" y1="690.50" x2="357.50" y2="690.50" stroke="#231f20" stroke-width="1.1" />
<line x1="306.05" y1="690.50" x2="309.25" y2="690.50" stroke="#231f20" stroke-width="1" />
<text x="303.65" y="693.30" font-size="8" fill="#231f20" text-anchor="end" textLength="8.80" lengthAdjust="spacingAndGlyphs" >59</text>
<line x1="306.05" y1="673.96" x2="309.25" y2="673.96" stroke="#231f20" stroke-width="1" />
<text x="303.65" y="676.76" font-size="8" fill="#231f20" text-anchor="end" textLength="8.80" lengthAdjust="spacingAndGlyphs" >60</text>
<line x1="306.05" y1="657.42" x2="309.25" y2="657.42" stroke="#231f20" stroke-width="1" />
<text x="303.65" y="660.22" font-size="8" fill="#231f20" text-anchor="end" textLength="8.80" lengthAdjust="spacingAndGlyphs" >61</text>
<line x1="306.05" y1="640.88" x2="309.25" y2="640.88" stroke="#231f20" stroke-width="1" />
<text x="303.65" y="643.68" font-size="8" fill="#231f20" text-anchor="end" textLength="8.80" lengthAdjust="spacingAndGlyphs" >62</text>
<line x1="306.05" y1="624.34" x2="309.25" y2="624.34" stroke="#231f20" stroke-width="1" />
<text x="303.65" y="627.14" font-size="8" fill="#231f20" text-anchor="end" textLength="8.80" lengthAdjust="spacingAndGlyphs" >63</text>
<line x1="306.05" y1="607.80" x2="309.25" y2="607.80" stroke="#231f20" stroke-width="1" />
<text x="303.65" y="610.60" font-size="8" fill="#231f20" text-anchor="end" textLength="8.80" lengthAdjust="spacingAndGlyphs" >64</text>
<line x1="325.50" y1="690.50" x2="325.50" y2="693.50" stroke="#231f20" stroke-width="1" />
<line x1="349.25" y1="690.50" x2="349.25" y2="693.50" stroke="#231f20" stroke-width="1" />
<text x="337.50" y="595.20" font-size="9.4" fill="#231f20" text-anchor="middle" >Cdk4</text>
<text x="318.75" y="610.00" font-size="7" fill="#231f20" textLength="36.75" lengthAdjust="spacingAndGlyphs" ><tspan font-style="italic">P</tspan> = 0.0176</text>
<path d="M325.50,657.50 L325.50,614.25 L349.25,614.25 L349.25,617.50" fill="none" stroke="#222" stroke-width="1" />
<circle cx="325.50" cy="661.25" r="1.25" fill="#3a6cc0"/>
<circle cx="322.50" cy="669.50" r="1.25" fill="#3a6cc0"/>
<circle cx="328.00" cy="669.50" r="1.25" fill="#3a6cc0"/>
<circle cx="325.50" cy="685.50" r="1.25" fill="#3a6cc0"/>
<circle cx="349.25" cy="620.50" r="1.25" fill="#b8221c"/>
<circle cx="349.25" cy="644.50" r="1.25" fill="#b8221c"/>
<circle cx="349.25" cy="648.50" r="1.25" fill="#b8221c"/>
<circle cx="349.25" cy="651.25" r="1.25" fill="#b8221c"/>
<line x1="317.50" y1="669.50" x2="333.00" y2="669.50" stroke="#111" stroke-width="1.3" />
<line x1="341.25" y1="647.50" x2="357.00" y2="647.50" stroke="#111" stroke-width="1.3" />
<line x1="389.25" y1="606.30" x2="389.25" y2="691.00" stroke="#231f20" stroke-width="1.1" />
<line x1="388.75" y1="690.50" x2="443.75" y2="690.50" stroke="#231f20" stroke-width="1.1" />
<line x1="386.05" y1="690.50" x2="389.25" y2="690.50" stroke="#231f20" stroke-width="1" />
<text x="383.65" y="693.30" font-size="8" fill="#231f20" text-anchor="end" textLength="8.80" lengthAdjust="spacingAndGlyphs" >20</text>
<line x1="386.05" y1="669.83" x2="389.25" y2="669.83" stroke="#231f20" stroke-width="1" />
<text x="383.65" y="672.62" font-size="8" fill="#231f20" text-anchor="end" textLength="8.80" lengthAdjust="spacingAndGlyphs" >21</text>
<line x1="386.05" y1="649.15" x2="389.25" y2="649.15" stroke="#231f20" stroke-width="1" />
<text x="383.65" y="651.95" font-size="8" fill="#231f20" text-anchor="end" textLength="8.80" lengthAdjust="spacingAndGlyphs" >22</text>
<line x1="386.05" y1="628.47" x2="389.25" y2="628.47" stroke="#231f20" stroke-width="1" />
<text x="383.65" y="631.27" font-size="8" fill="#231f20" text-anchor="end" textLength="8.80" lengthAdjust="spacingAndGlyphs" >23</text>
<line x1="386.05" y1="607.80" x2="389.25" y2="607.80" stroke="#231f20" stroke-width="1" />
<text x="383.65" y="610.60" font-size="8" fill="#231f20" text-anchor="end" textLength="8.80" lengthAdjust="spacingAndGlyphs" >24</text>
<line x1="404.50" y1="690.50" x2="404.50" y2="693.50" stroke="#231f20" stroke-width="1" />
<line x1="428.25" y1="690.50" x2="428.25" y2="693.50" stroke="#231f20" stroke-width="1" />
<text x="416.60" y="595.20" font-size="9.4" fill="#231f20" text-anchor="middle" >Map3k1</text>
<text x="398.75" y="606.75" font-size="7" fill="#231f20" textLength="35.75" lengthAdjust="spacingAndGlyphs" ><tspan font-style="italic">P</tspan> = 0.0061</text>
<path d="M404.50,652.50 L404.50,611.25 L428.25,611.25 L428.25,614.25" fill="none" stroke="#222" stroke-width="1" />
<circle cx="404.50" cy="655.50" r="1.25" fill="#3a6cc0"/>
<circle cx="404.50" cy="659.50" r="1.25" fill="#3a6cc0"/>
<circle cx="404.50" cy="673.75" r="1.25" fill="#3a6cc0"/>
<circle cx="404.50" cy="677.00" r="1.25" fill="#3a6cc0"/>
<circle cx="428.25" cy="618.00" r="1.25" fill="#b8221c"/>
<circle cx="428.25" cy="625.50" r="1.25" fill="#b8221c"/>
<circle cx="428.25" cy="635.50" r="1.25" fill="#b8221c"/>
<circle cx="428.25" cy="648.75" r="1.25" fill="#b8221c"/>
<line x1="397.00" y1="666.75" x2="412.50" y2="666.75" stroke="#111" stroke-width="1.3" />
<line x1="420.75" y1="630.50" x2="436.25" y2="630.50" stroke="#111" stroke-width="1.3" />
<text x="45.60" y="648.20" font-size="9.9" fill="#231f20" text-anchor="middle" textLength="76.00" lengthAdjust="spacingAndGlyphs" transform="rotate(-90 45.60 648.20)" >Upstream kinase score</text>
</svg></body></html>
